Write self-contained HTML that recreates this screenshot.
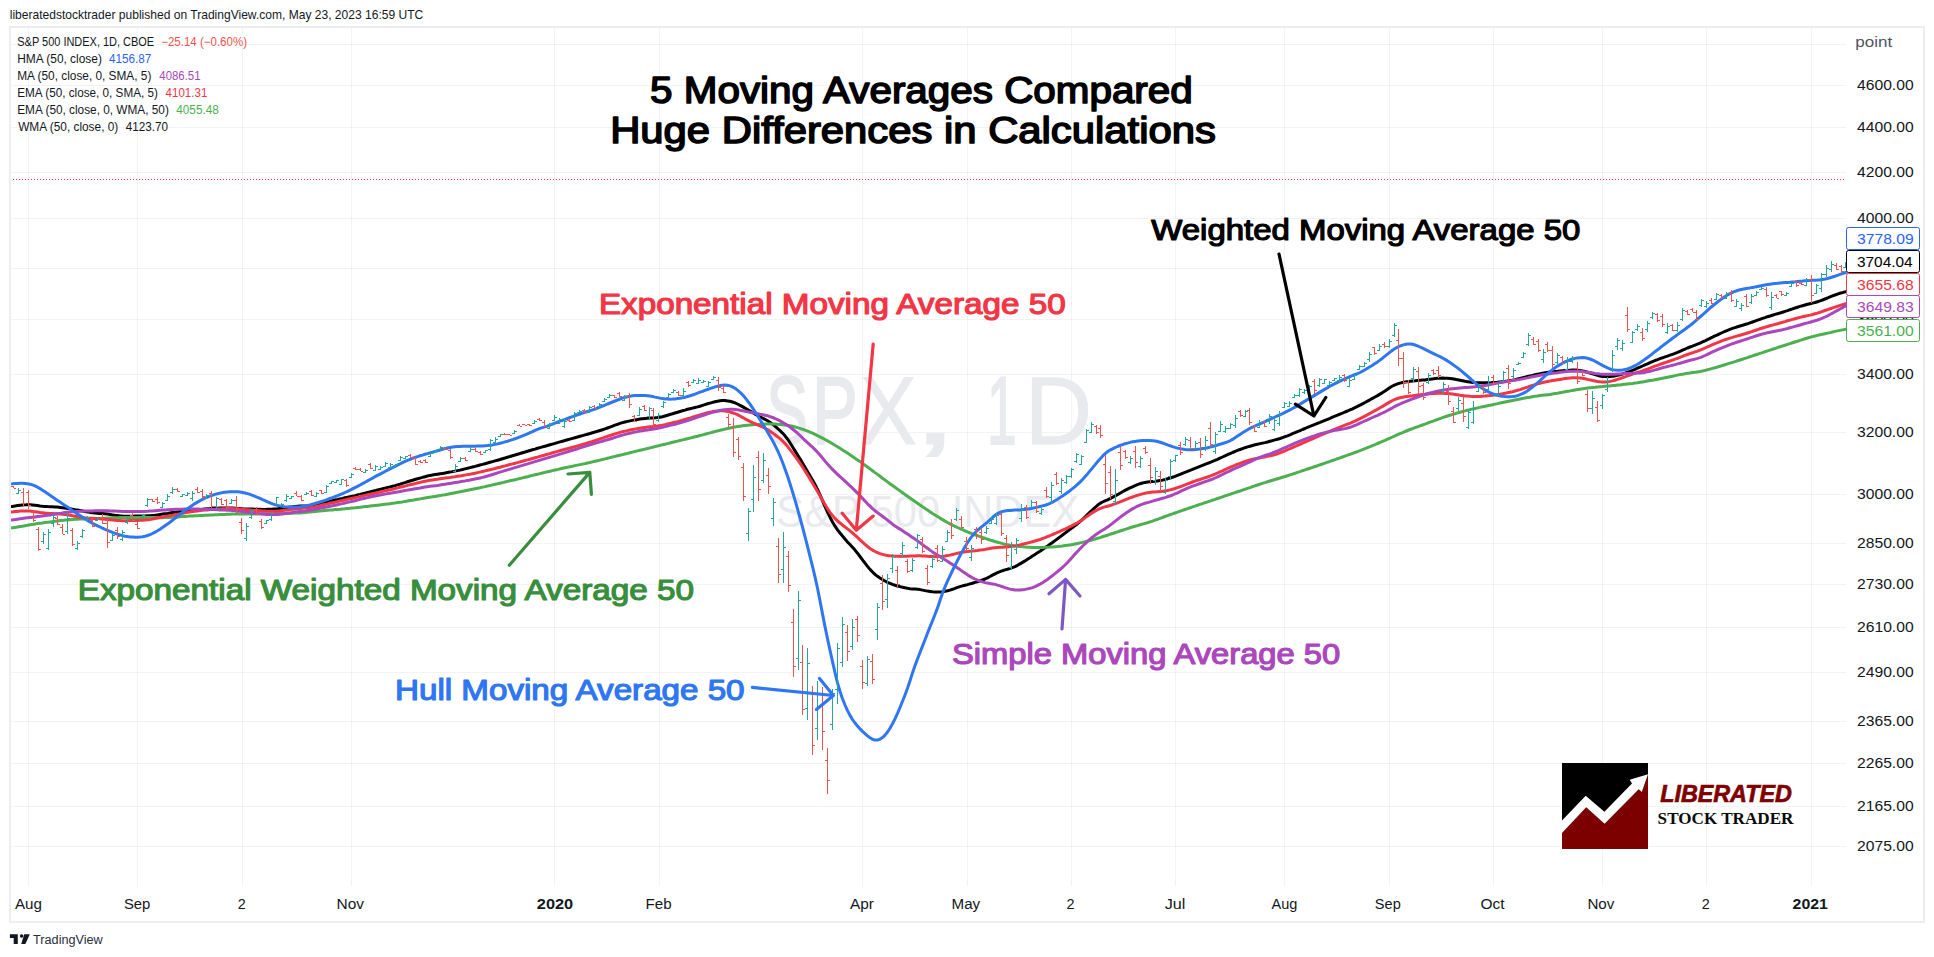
<!DOCTYPE html>
<html lang="en"><head><meta charset="utf-8"><title>5 Moving Averages Compared</title>
<style>html,body{margin:0;padding:0;background:#fff;}body{width:1934px;height:957px;overflow:hidden;}svg{display:block;}text{font-family:'Liberation Sans', sans-serif;}</style>
</head><body>
<svg width="1934" height="957" viewBox="0 0 1934 957">
<rect width="1934" height="957" fill="#fff"/>
<text x="9.71" y="18.8" font-size="12.2" fill="#131722" textLength="413.54" lengthAdjust="spacingAndGlyphs">liberatedstocktrader published on TradingView.com, May 23, 2023 16:59 UTC</text>
<g stroke="#2a2e39" stroke-opacity="0.06" stroke-width="1" shape-rendering="crispEdges">
<line x1="28.5" y1="28" x2="28.5" y2="886"/>
<line x1="137.5" y1="28" x2="137.5" y2="886"/>
<line x1="242.5" y1="28" x2="242.5" y2="886"/>
<line x1="351.5" y1="28" x2="351.5" y2="886"/>
<line x1="554.5" y1="28" x2="554.5" y2="886"/>
<line x1="659.5" y1="28" x2="659.5" y2="886"/>
<line x1="862.5" y1="28" x2="862.5" y2="886"/>
<line x1="967.5" y1="28" x2="967.5" y2="886"/>
<line x1="1071.5" y1="28" x2="1071.5" y2="886"/>
<line x1="1175.5" y1="28" x2="1175.5" y2="886"/>
<line x1="1284.5" y1="28" x2="1284.5" y2="886"/>
<line x1="1389.5" y1="28" x2="1389.5" y2="886"/>
<line x1="1493.5" y1="28" x2="1493.5" y2="886"/>
<line x1="1602.5" y1="28" x2="1602.5" y2="886"/>
<line x1="1706.5" y1="28" x2="1706.5" y2="886"/>
<line x1="1811.5" y1="28" x2="1811.5" y2="886"/>
<line x1="11" y1="44.5" x2="1846" y2="44.5"/>
<line x1="11" y1="85.5" x2="1846" y2="85.5"/>
<line x1="11" y1="127.5" x2="1846" y2="127.5"/>
<line x1="11" y1="172.5" x2="1846" y2="172.5"/>
<line x1="11" y1="218.5" x2="1846" y2="218.5"/>
<line x1="11" y1="268.5" x2="1846" y2="268.5"/>
<line x1="11" y1="319.5" x2="1846" y2="319.5"/>
<line x1="11" y1="374.5" x2="1846" y2="374.5"/>
<line x1="11" y1="432.5" x2="1846" y2="432.5"/>
<line x1="11" y1="494.5" x2="1846" y2="494.5"/>
<line x1="11" y1="543.5" x2="1846" y2="543.5"/>
<line x1="11" y1="584.5" x2="1846" y2="584.5"/>
<line x1="11" y1="627.5" x2="1846" y2="627.5"/>
<line x1="11" y1="672.5" x2="1846" y2="672.5"/>
<line x1="11" y1="721.5" x2="1846" y2="721.5"/>
<line x1="11" y1="763.5" x2="1846" y2="763.5"/>
<line x1="11" y1="806.5" x2="1846" y2="806.5"/>
<line x1="11" y1="846.5" x2="1846" y2="846.5"/>
</g>
<text y="443.7" font-size="96" fill="#e9eaee" xml:space="preserve"><tspan x="766.29" textLength="41.73" lengthAdjust="spacingAndGlyphs" stroke="#e9eaee" stroke-width="2.0">S</tspan><tspan x="812.07" textLength="45.83" lengthAdjust="spacingAndGlyphs" stroke="#e9eaee" stroke-width="2.0">P</tspan><tspan x="859.72" textLength="57.09" lengthAdjust="spacingAndGlyphs" stroke="#e9eaee" stroke-width="1.0">X</tspan><tspan x="911.4" textLength="47.12" lengthAdjust="spacingAndGlyphs" stroke="#e9eaee" stroke-width="1.0">,</tspan> <tspan x="986.9" textLength="29.75" lengthAdjust="spacingAndGlyphs" stroke="#e9eaee" stroke-width="2.0">1</tspan><tspan x="1024.82" textLength="67.38" lengthAdjust="spacingAndGlyphs" stroke="#e9eaee" stroke-width="1.0">D</tspan></text>
<text x="776.35" y="527.4" font-size="45" fill="#e9eaee" textLength="302.63" lengthAdjust="spacingAndGlyphs">S&amp;P 500 INDEX</text>
<line x1="13" y1="179.5" x2="1846" y2="179.5" stroke="#f23645" stroke-width="1" stroke-dasharray="1 2" shape-rendering="crispEdges"/>
<g fill="none" stroke-width="3" stroke-linecap="butt" stroke-linejoin="round">
<path d="M10.0 506.6L12.5 506.4L15.0 506.0L17.5 505.6L20.0 505.2L22.5 505.0L25.0 504.8L27.5 504.7L30.0 504.7L32.5 504.9L35.0 505.2L37.5 505.5L40.0 505.9L42.5 506.2L45.0 506.4L47.5 506.6L50.0 506.7L52.5 506.8L55.0 506.9L57.5 507.1L60.0 507.4L62.5 507.7L65.0 508.1L67.5 508.4L70.0 508.8L72.5 509.2L75.0 509.7L77.5 510.1L80.0 510.5L82.5 511.0L85.0 511.5L87.5 511.9L90.0 512.4L92.5 512.8L95.0 513.0L97.5 513.2L100.0 513.4L102.5 513.5L105.0 513.8L107.5 514.1L110.0 514.5L112.5 514.9L115.0 515.3L117.5 515.6L120.0 515.9L122.5 516.1L125.0 516.2L127.5 516.2L130.0 516.2L132.5 516.2L135.0 516.1L137.5 516.1L140.0 516.0L142.5 515.9L145.0 515.9L147.5 515.8L150.0 515.7L152.5 515.5L155.0 515.3L157.5 514.9L160.0 514.5L162.5 514.1L165.0 513.7L167.5 513.4L170.0 513.0L172.5 512.6L175.0 512.3L177.5 511.9L180.0 511.6L182.5 511.3L185.0 511.0L187.5 510.7L190.0 510.4L192.5 510.1L195.0 509.8L197.5 509.6L200.0 509.4L202.5 509.2L205.0 508.9L207.5 508.7L210.0 508.6L212.5 508.4L215.0 508.3L217.5 508.2L220.0 508.1L222.5 508.1L225.0 508.1L227.5 508.0L230.0 508.1L232.5 508.1L235.0 508.2L237.5 508.4L240.0 508.6L242.5 508.8L245.0 508.9L247.5 509.0L250.0 509.1L252.5 509.1L255.0 509.2L257.5 509.3L260.0 509.3L262.5 509.4L265.0 509.4L267.5 509.3L270.0 509.2L272.5 509.1L275.0 508.9L277.5 508.7L280.0 508.4L282.5 508.1L285.0 507.8L287.5 507.5L290.0 507.1L292.5 506.8L295.0 506.4L297.5 506.2L300.0 506.0L302.5 506.0L305.0 506.0L307.5 505.9L310.0 505.7L312.5 505.3L315.0 504.7L317.5 504.2L320.0 503.6L322.5 502.9L325.0 502.3L327.5 501.7L330.0 501.2L332.5 500.6L335.0 500.0L337.5 499.5L340.0 498.9L342.5 498.4L345.0 497.8L347.5 497.3L350.0 496.7L352.5 496.1L355.0 495.6L357.5 495.0L360.0 494.4L362.5 493.8L365.0 493.1L367.5 492.5L370.0 491.9L372.5 491.3L375.0 490.6L377.5 490.0L380.0 489.4L382.5 488.8L385.0 488.1L387.5 487.5L390.0 486.9L392.5 486.2L395.0 485.6L397.5 484.9L400.0 484.2L402.5 483.4L405.0 482.6L407.5 481.8L410.0 481.0L412.5 480.3L415.0 479.5L417.5 478.8L420.0 478.1L422.5 477.4L425.0 476.7L427.5 476.0L430.0 475.4L432.5 475.0L435.0 474.6L437.5 474.2L440.0 473.8L442.5 473.4L445.0 473.0L447.5 472.5L450.0 472.1L452.5 471.6L455.0 471.1L457.5 470.6L460.0 470.1L462.5 469.5L465.0 468.9L467.5 468.3L470.0 467.6L472.5 467.0L475.0 466.4L477.5 465.7L480.0 465.0L482.5 464.4L485.0 463.7L487.5 463.0L490.0 462.3L492.5 461.6L495.0 460.9L497.5 460.2L500.0 459.5L502.5 458.7L505.0 458.0L507.5 457.2L510.0 456.5L512.5 455.7L515.0 455.0L517.5 454.2L520.0 453.5L522.5 452.7L525.0 452.0L527.5 451.2L530.0 450.5L532.5 449.8L535.0 449.1L537.5 448.3L540.0 447.6L542.5 446.9L545.0 446.2L547.5 445.5L550.0 444.8L552.5 444.1L555.0 443.4L557.5 442.6L560.0 441.9L562.5 441.2L565.0 440.5L567.5 439.8L570.0 439.1L572.5 438.4L575.0 437.7L577.5 437.0L580.0 436.3L582.5 435.6L585.0 434.9L587.5 434.2L590.0 433.5L592.5 432.7L595.0 432.0L597.5 431.3L600.0 430.5L602.5 429.7L605.0 428.9L607.5 428.0L610.0 427.1L612.5 426.2L615.0 425.2L617.5 424.3L620.0 423.4L622.5 422.6L625.0 422.0L627.5 421.4L630.0 420.9L632.5 420.4L635.0 419.9L637.5 419.5L640.0 419.1L642.5 418.7L645.0 418.4L647.5 418.2L650.0 418.0L652.5 417.9L655.0 417.8L657.5 417.6L660.0 417.2L662.5 416.7L665.0 416.0L667.5 415.3L670.0 414.5L672.5 413.8L675.0 413.0L677.5 412.3L680.0 411.5L682.5 410.8L685.0 410.1L687.5 409.3L690.0 408.7L692.5 408.1L695.0 407.5L697.5 406.9L700.0 406.2L702.5 405.4L705.0 404.6L707.5 403.8L710.0 403.1L712.5 402.4L715.0 401.7L717.5 401.2L720.0 400.8L722.5 400.6L725.0 400.6L727.5 400.9L730.0 401.3L732.5 402.0L735.0 402.9L737.5 404.0L740.0 405.3L742.5 406.6L745.0 408.1L747.5 409.5L750.0 411.0L752.5 412.5L755.0 414.1L757.5 415.5L760.0 416.8L762.5 418.0L765.0 419.3L767.5 420.7L770.0 422.3L772.5 424.1L775.0 426.1L777.5 428.3L780.0 430.6L782.5 433.1L785.0 435.8L787.5 439.0L790.0 442.7L792.5 446.8L795.0 450.9L797.5 454.9L800.0 458.9L802.5 463.1L805.0 467.3L807.5 471.5L810.0 475.7L812.5 479.9L815.0 484.5L817.5 489.4L820.0 494.9L822.5 500.7L825.0 506.6L827.5 512.0L830.0 517.2L832.5 522.0L835.0 526.2L837.5 529.8L840.0 533.0L842.5 536.0L845.0 539.0L847.5 541.9L850.0 544.6L852.5 547.3L855.0 550.1L857.5 553.2L860.0 556.5L862.5 559.8L865.0 563.1L867.5 566.4L870.0 569.4L872.5 572.0L875.0 574.3L877.5 576.3L880.0 578.0L882.5 579.6L885.0 581.0L887.5 582.3L890.0 583.4L892.5 584.4L895.0 585.2L897.5 586.0L900.0 586.6L902.5 587.2L905.0 587.8L907.5 588.3L910.0 588.7L912.5 589.0L915.0 589.1L917.5 589.3L920.0 589.6L922.5 590.1L925.0 590.6L927.5 591.1L930.0 591.4L932.5 591.7L935.0 591.9L937.5 591.9L940.0 591.9L942.5 591.7L945.0 591.3L947.5 590.8L950.0 590.1L952.5 589.3L955.0 588.4L957.5 587.4L960.0 586.6L962.5 585.9L965.0 585.2L967.5 584.6L970.0 583.9L972.5 583.2L975.0 582.4L977.5 581.7L980.0 580.9L982.5 580.0L985.0 579.0L987.5 577.8L990.0 576.5L992.5 575.1L995.0 573.8L997.5 572.6L1000.0 571.6L1002.5 570.7L1005.0 569.9L1007.5 569.2L1010.0 568.4L1012.5 567.6L1015.0 566.6L1017.5 565.3L1020.0 563.9L1022.5 562.4L1025.0 560.9L1027.5 559.3L1030.0 557.7L1032.5 556.0L1035.0 554.4L1037.5 552.8L1040.0 551.2L1042.5 549.5L1045.0 547.8L1047.5 546.1L1050.0 544.3L1052.5 542.5L1055.0 540.6L1057.5 538.8L1060.0 536.9L1062.5 535.0L1065.0 533.1L1067.5 531.3L1070.0 529.4L1072.5 527.5L1075.0 525.6L1077.5 523.7L1080.0 521.6L1082.5 519.4L1085.0 517.0L1087.5 514.6L1090.0 512.2L1092.5 509.8L1095.0 507.5L1097.5 505.3L1100.0 503.4L1102.5 502.0L1105.0 500.9L1107.5 499.9L1110.0 498.7L1112.5 497.4L1115.0 496.0L1117.5 494.6L1120.0 493.2L1122.5 491.8L1125.0 490.4L1127.5 489.1L1130.0 487.9L1132.5 486.8L1135.0 485.7L1137.5 484.6L1140.0 483.7L1142.5 483.0L1145.0 482.4L1147.5 482.0L1150.0 481.7L1152.5 481.4L1155.0 481.2L1157.5 480.9L1160.0 480.6L1162.5 480.1L1165.0 479.5L1167.5 478.8L1170.0 478.0L1172.5 477.2L1175.0 476.4L1177.5 475.4L1180.0 474.4L1182.5 473.3L1185.0 472.3L1187.5 471.3L1190.0 470.4L1192.5 469.4L1195.0 468.4L1197.5 467.4L1200.0 466.4L1202.5 465.4L1205.0 464.4L1207.5 463.4L1210.0 462.5L1212.5 461.4L1215.0 460.4L1217.5 459.3L1220.0 458.1L1222.5 457.0L1225.0 455.9L1227.5 454.7L1230.0 453.6L1232.5 452.5L1235.0 451.5L1237.5 450.4L1240.0 449.5L1242.5 448.6L1245.0 447.7L1247.5 446.9L1250.0 446.2L1252.5 445.5L1255.0 444.8L1257.5 444.2L1260.0 443.6L1262.5 443.1L1265.0 442.6L1267.5 442.0L1270.0 441.3L1272.5 440.6L1275.0 439.9L1277.5 439.2L1280.0 438.5L1282.5 437.6L1285.0 436.7L1287.5 435.8L1290.0 434.8L1292.5 433.7L1295.0 432.7L1297.5 431.6L1300.0 430.6L1302.5 429.5L1305.0 428.5L1307.5 427.4L1310.0 426.4L1312.5 425.4L1315.0 424.4L1317.5 423.4L1320.0 422.4L1322.5 421.3L1325.0 420.3L1327.5 419.3L1330.0 418.3L1332.5 417.2L1335.0 416.2L1337.5 415.2L1340.0 414.1L1342.5 413.1L1345.0 412.0L1347.5 411.0L1350.0 409.9L1352.5 408.8L1355.0 407.6L1357.5 406.4L1360.0 405.1L1362.5 403.8L1365.0 402.5L1367.5 401.1L1370.0 399.8L1372.5 398.4L1375.0 397.0L1377.5 395.6L1380.0 394.1L1382.5 392.6L1385.0 391.0L1387.5 389.2L1390.0 387.5L1392.5 386.0L1395.0 384.8L1397.5 383.9L1400.0 383.1L1402.5 382.5L1405.0 382.1L1407.5 381.7L1410.0 381.3L1412.5 381.0L1415.0 380.8L1417.5 380.5L1420.0 380.3L1422.5 380.1L1425.0 379.9L1427.5 379.5L1430.0 379.2L1432.5 378.9L1435.0 378.6L1437.5 378.3L1440.0 378.2L1442.5 378.1L1445.0 378.2L1447.5 378.3L1450.0 378.5L1452.5 378.8L1455.0 379.2L1457.5 379.7L1460.0 380.2L1462.5 380.7L1465.0 381.3L1467.5 381.7L1470.0 382.1L1472.5 382.4L1475.0 382.6L1477.5 382.7L1480.0 382.8L1482.5 382.8L1485.0 382.8L1487.5 382.8L1490.0 382.7L1492.5 382.6L1495.0 382.5L1497.5 382.3L1500.0 382.0L1502.5 381.7L1505.0 381.4L1507.5 381.0L1510.0 380.6L1512.5 380.1L1515.0 379.6L1517.5 379.0L1520.0 378.4L1522.5 377.8L1525.0 377.1L1527.5 376.5L1530.0 375.9L1532.5 375.4L1535.0 374.8L1537.5 374.3L1540.0 373.8L1542.5 373.2L1545.0 372.8L1547.5 372.4L1550.0 372.1L1552.5 371.8L1555.0 371.5L1557.5 371.3L1560.0 371.0L1562.5 370.8L1565.0 370.6L1567.5 370.4L1570.0 370.2L1572.5 370.1L1575.0 370.1L1577.5 370.2L1580.0 370.5L1582.5 370.9L1585.0 371.5L1587.5 372.2L1590.0 373.0L1592.5 373.9L1595.0 374.6L1597.5 375.4L1600.0 376.0L1602.5 376.4L1605.0 376.6L1607.5 376.7L1610.0 376.6L1612.5 376.3L1615.0 375.9L1617.5 375.4L1620.0 374.7L1622.5 374.0L1625.0 373.1L1627.5 372.2L1630.0 371.3L1632.5 370.3L1635.0 369.3L1637.5 368.2L1640.0 367.1L1642.5 366.0L1645.0 364.9L1647.5 363.8L1650.0 362.7L1652.5 361.6L1655.0 360.5L1657.5 359.6L1660.0 358.6L1662.5 357.8L1665.0 356.9L1667.5 356.1L1670.0 355.2L1672.5 354.3L1675.0 353.4L1677.5 352.4L1680.0 351.3L1682.5 350.2L1685.0 349.1L1687.5 348.0L1690.0 347.0L1692.5 346.1L1695.0 345.1L1697.5 344.1L1700.0 343.1L1702.5 341.9L1705.0 340.8L1707.5 339.6L1710.0 338.4L1712.5 337.2L1715.0 335.9L1717.5 334.8L1720.0 333.6L1722.5 332.5L1725.0 331.4L1727.5 330.3L1730.0 329.3L1732.5 328.4L1735.0 327.6L1737.5 326.8L1740.0 326.0L1742.5 325.3L1745.0 324.5L1747.5 323.8L1750.0 322.9L1752.5 322.0L1755.0 321.1L1757.5 320.2L1760.0 319.3L1762.5 318.4L1765.0 317.6L1767.5 316.7L1770.0 316.0L1772.5 315.2L1775.0 314.4L1777.5 313.7L1780.0 313.0L1782.5 312.2L1785.0 311.4L1787.5 310.6L1790.0 309.7L1792.5 308.9L1795.0 308.0L1797.5 307.2L1800.0 306.4L1802.5 305.7L1805.0 305.0L1807.5 304.3L1810.0 303.7L1812.5 303.1L1815.0 302.5L1817.5 301.7L1820.0 300.9L1822.5 300.0L1825.0 299.0L1827.5 298.0L1830.0 296.9L1832.5 295.9L1835.0 295.0L1837.5 294.1L1840.0 293.3L1842.5 292.6L1845.0 291.9L1846.6 291.5" stroke="#000000"/>
<path d="M10.0 528.1L12.5 527.8L15.0 527.4L17.5 527.0L20.0 526.6L22.5 526.2L25.0 525.7L27.5 525.3L30.0 524.8L32.5 524.4L35.0 524.0L37.5 523.6L40.0 523.2L42.5 522.9L45.0 522.5L47.5 522.2L50.0 521.9L52.5 521.6L55.0 521.2L57.5 520.9L60.0 520.6L62.5 520.4L65.0 520.1L67.5 519.9L70.0 519.7L72.5 519.5L75.0 519.3L77.5 519.2L80.0 519.1L82.5 519.0L85.0 518.9L87.5 518.8L90.0 518.7L92.5 518.6L95.0 518.5L97.5 518.4L100.0 518.4L102.5 518.3L105.0 518.2L107.5 518.1L110.0 518.0L112.5 517.9L115.0 517.8L117.5 517.7L120.0 517.6L122.5 517.6L125.0 517.5L127.5 517.5L130.0 517.5L132.5 517.4L135.0 517.4L137.5 517.4L140.0 517.4L142.5 517.4L145.0 517.3L147.5 517.4L150.0 517.4L152.5 517.5L155.0 517.6L157.5 517.7L160.0 517.7L162.5 517.7L165.0 517.6L167.5 517.5L170.0 517.4L172.5 517.3L175.0 517.1L177.5 516.9L180.0 516.8L182.5 516.6L185.0 516.4L187.5 516.3L190.0 516.1L192.5 516.0L195.0 515.8L197.5 515.7L200.0 515.6L202.5 515.5L205.0 515.3L207.5 515.2L210.0 515.1L212.5 515.0L215.0 514.8L217.5 514.7L220.0 514.6L222.5 514.5L225.0 514.4L227.5 514.3L230.0 514.2L232.5 514.1L235.0 514.0L237.5 514.0L240.0 513.9L242.5 513.9L245.0 513.9L247.5 513.9L250.0 513.9L252.5 513.9L255.0 513.9L257.5 513.9L260.0 513.8L262.5 513.8L265.0 513.8L267.5 513.8L270.0 513.7L272.5 513.7L275.0 513.6L277.5 513.6L280.0 513.5L282.5 513.5L285.0 513.4L287.5 513.3L290.0 513.3L292.5 513.2L295.0 513.1L297.5 513.0L300.0 512.9L302.5 512.7L305.0 512.5L307.5 512.2L310.0 512.0L312.5 511.7L315.0 511.4L317.5 511.2L320.0 511.0L322.5 510.8L325.0 510.5L327.5 510.3L330.0 510.1L332.5 509.9L335.0 509.6L337.5 509.4L340.0 509.2L342.5 508.9L345.0 508.7L347.5 508.4L350.0 508.2L352.5 507.9L355.0 507.7L357.5 507.4L360.0 507.2L362.5 506.9L365.0 506.6L367.5 506.4L370.0 506.1L372.5 505.8L375.0 505.5L377.5 505.2L380.0 504.9L382.5 504.6L385.0 504.3L387.5 504.0L390.0 503.7L392.5 503.3L395.0 503.0L397.5 502.6L400.0 502.2L402.5 501.9L405.0 501.4L407.5 501.0L410.0 500.6L412.5 500.2L415.0 499.7L417.5 499.3L420.0 498.9L422.5 498.4L425.0 498.0L427.5 497.6L430.0 497.2L432.5 496.8L435.0 496.4L437.5 496.0L440.0 495.6L442.5 495.1L445.0 494.7L447.5 494.2L450.0 493.7L452.5 493.2L455.0 492.8L457.5 492.3L460.0 491.8L462.5 491.2L465.0 490.7L467.5 490.2L470.0 489.7L472.5 489.2L475.0 488.7L477.5 488.2L480.0 487.7L482.5 487.1L485.0 486.6L487.5 486.0L490.0 485.5L492.5 484.9L495.0 484.3L497.5 483.8L500.0 483.2L502.5 482.6L505.0 482.0L507.5 481.4L510.0 480.8L512.5 480.3L515.0 479.7L517.5 479.1L520.0 478.5L522.5 477.9L525.0 477.3L527.5 476.7L530.0 476.0L532.5 475.4L535.0 474.8L537.5 474.2L540.0 473.6L542.5 473.0L545.0 472.4L547.5 471.8L550.0 471.2L552.5 470.6L555.0 470.0L557.5 469.5L560.0 468.9L562.5 468.3L565.0 467.8L567.5 467.3L570.0 466.7L572.5 466.2L575.0 465.6L577.5 465.1L580.0 464.6L582.5 464.1L585.0 463.6L587.5 463.0L590.0 462.5L592.5 461.9L595.0 461.3L597.5 460.7L600.0 460.1L602.5 459.5L605.0 458.9L607.5 458.2L610.0 457.6L612.5 457.0L615.0 456.4L617.5 455.8L620.0 455.2L622.5 454.6L625.0 454.0L627.5 453.4L630.0 452.7L632.5 452.1L635.0 451.5L637.5 450.9L640.0 450.3L642.5 449.7L645.0 449.1L647.5 448.5L650.0 447.9L652.5 447.2L655.0 446.6L657.5 446.0L660.0 445.4L662.5 444.8L665.0 444.2L667.5 443.6L670.0 443.0L672.5 442.3L675.0 441.7L677.5 441.1L680.0 440.5L682.5 439.9L685.0 439.3L687.5 438.7L690.0 438.1L692.5 437.5L695.0 436.8L697.5 436.2L700.0 435.5L702.5 434.9L705.0 434.2L707.5 433.5L710.0 432.9L712.5 432.2L715.0 431.5L717.5 430.9L720.0 430.3L722.5 429.7L725.0 429.1L727.5 428.5L730.0 428.0L732.5 427.5L735.0 427.0L737.5 426.6L740.0 426.2L742.5 425.8L745.0 425.5L747.5 425.2L750.0 425.0L752.5 424.8L755.0 424.6L757.5 424.4L760.0 424.3L762.5 424.2L765.0 424.1L767.5 424.0L770.0 424.0L772.5 424.1L775.0 424.1L777.5 424.3L780.0 424.4L782.5 424.7L785.0 425.0L787.5 425.4L790.0 425.8L792.5 426.3L795.0 426.9L797.5 427.6L800.0 428.4L802.5 429.2L805.0 430.1L807.5 431.1L810.0 432.1L812.5 433.2L815.0 434.3L817.5 435.6L820.0 436.8L822.5 438.1L825.0 439.5L827.5 440.9L830.0 442.3L832.5 443.8L835.0 445.3L837.5 446.8L840.0 448.3L842.5 449.9L845.0 451.5L847.5 453.1L850.0 454.8L852.5 456.5L855.0 458.2L857.5 459.9L860.0 461.6L862.5 463.4L865.0 465.2L867.5 467.0L870.0 468.9L872.5 470.7L875.0 472.6L877.5 474.4L880.0 476.3L882.5 478.2L885.0 480.0L887.5 481.9L890.0 483.7L892.5 485.5L895.0 487.3L897.5 489.1L900.0 490.9L902.5 492.7L905.0 494.5L907.5 496.2L910.0 498.0L912.5 499.7L915.0 501.5L917.5 503.2L920.0 505.0L922.5 506.7L925.0 508.4L927.5 510.1L930.0 511.7L932.5 513.4L935.0 515.0L937.5 516.5L940.0 518.1L942.5 519.6L945.0 521.1L947.5 522.5L950.0 523.8L952.5 525.1L955.0 526.3L957.5 527.5L960.0 528.6L962.5 529.7L965.0 530.8L967.5 531.8L970.0 532.8L972.5 533.8L975.0 534.8L977.5 535.7L980.0 536.6L982.5 537.5L985.0 538.3L987.5 539.2L990.0 540.0L992.5 540.7L995.0 541.5L997.5 542.2L1000.0 542.9L1002.5 543.6L1005.0 544.2L1007.5 544.7L1010.0 545.2L1012.5 545.6L1015.0 546.0L1017.5 546.3L1020.0 546.6L1022.5 546.8L1025.0 547.0L1027.5 547.2L1030.0 547.3L1032.5 547.4L1035.0 547.5L1037.5 547.5L1040.0 547.5L1042.5 547.4L1045.0 547.3L1047.5 547.2L1050.0 547.1L1052.5 546.9L1055.0 546.7L1057.5 546.5L1060.0 546.2L1062.5 546.0L1065.0 545.6L1067.5 545.3L1070.0 544.9L1072.5 544.5L1075.0 544.0L1077.5 543.5L1080.0 542.9L1082.5 542.4L1085.0 541.8L1087.5 541.1L1090.0 540.5L1092.5 539.8L1095.0 539.1L1097.5 538.3L1100.0 537.6L1102.5 536.8L1105.0 536.0L1107.5 535.2L1110.0 534.3L1112.5 533.5L1115.0 532.7L1117.5 531.9L1120.0 531.0L1122.5 530.2L1125.0 529.4L1127.5 528.6L1130.0 527.8L1132.5 527.0L1135.0 526.3L1137.5 525.6L1140.0 524.8L1142.5 524.1L1145.0 523.4L1147.5 522.7L1150.0 521.9L1152.5 521.1L1155.0 520.2L1157.5 519.3L1160.0 518.4L1162.5 517.5L1165.0 516.5L1167.5 515.6L1170.0 514.7L1172.5 513.9L1175.0 513.0L1177.5 512.1L1180.0 511.2L1182.5 510.4L1185.0 509.5L1187.5 508.6L1190.0 507.8L1192.5 506.9L1195.0 506.1L1197.5 505.2L1200.0 504.4L1202.5 503.6L1205.0 502.7L1207.5 501.9L1210.0 501.1L1212.5 500.2L1215.0 499.4L1217.5 498.5L1220.0 497.7L1222.5 496.8L1225.0 495.9L1227.5 495.1L1230.0 494.3L1232.5 493.4L1235.0 492.6L1237.5 491.8L1240.0 491.0L1242.5 490.1L1245.0 489.3L1247.5 488.4L1250.0 487.6L1252.5 486.7L1255.0 485.8L1257.5 485.0L1260.0 484.2L1262.5 483.3L1265.0 482.6L1267.5 481.8L1270.0 481.0L1272.5 480.2L1275.0 479.5L1277.5 478.7L1280.0 478.0L1282.5 477.2L1285.0 476.5L1287.5 475.7L1290.0 474.9L1292.5 474.1L1295.0 473.3L1297.5 472.4L1300.0 471.6L1302.5 470.7L1305.0 469.9L1307.5 469.0L1310.0 468.2L1312.5 467.4L1315.0 466.5L1317.5 465.7L1320.0 464.8L1322.5 464.0L1325.0 463.1L1327.5 462.2L1330.0 461.4L1332.5 460.5L1335.0 459.6L1337.5 458.7L1340.0 457.9L1342.5 457.0L1345.0 456.1L1347.5 455.2L1350.0 454.3L1352.5 453.4L1355.0 452.5L1357.5 451.6L1360.0 450.7L1362.5 449.7L1365.0 448.7L1367.5 447.7L1370.0 446.7L1372.5 445.6L1375.0 444.6L1377.5 443.5L1380.0 442.5L1382.5 441.4L1385.0 440.3L1387.5 439.2L1390.0 438.1L1392.5 437.0L1395.0 435.9L1397.5 434.7L1400.0 433.6L1402.5 432.6L1405.0 431.5L1407.5 430.5L1410.0 429.5L1412.5 428.6L1415.0 427.7L1417.5 426.8L1420.0 425.9L1422.5 425.0L1425.0 424.1L1427.5 423.2L1430.0 422.2L1432.5 421.3L1435.0 420.4L1437.5 419.5L1440.0 418.6L1442.5 417.7L1445.0 416.8L1447.5 416.0L1450.0 415.2L1452.5 414.4L1455.0 413.7L1457.5 412.9L1460.0 412.2L1462.5 411.5L1465.0 410.9L1467.5 410.2L1470.0 409.6L1472.5 409.0L1475.0 408.5L1477.5 407.9L1480.0 407.4L1482.5 406.8L1485.0 406.3L1487.5 405.7L1490.0 405.2L1492.5 404.7L1495.0 404.1L1497.5 403.6L1500.0 403.0L1502.5 402.5L1505.0 402.0L1507.5 401.5L1510.0 401.0L1512.5 400.5L1515.0 400.0L1517.5 399.5L1520.0 399.0L1522.5 398.5L1525.0 398.0L1527.5 397.6L1530.0 397.2L1532.5 396.7L1535.0 396.3L1537.5 396.0L1540.0 395.6L1542.5 395.3L1545.0 395.0L1547.5 394.7L1550.0 394.4L1552.5 394.0L1555.0 393.6L1557.5 393.2L1560.0 392.7L1562.5 392.3L1565.0 391.8L1567.5 391.3L1570.0 390.9L1572.5 390.4L1575.0 390.0L1577.5 389.6L1580.0 389.2L1582.5 388.8L1585.0 388.4L1587.5 388.1L1590.0 387.8L1592.5 387.5L1595.0 387.3L1597.5 387.0L1600.0 386.8L1602.5 386.6L1605.0 386.3L1607.5 386.1L1610.0 385.9L1612.5 385.6L1615.0 385.4L1617.5 385.1L1620.0 384.9L1622.5 384.6L1625.0 384.3L1627.5 384.0L1630.0 383.7L1632.5 383.4L1635.0 383.0L1637.5 382.7L1640.0 382.3L1642.5 381.9L1645.0 381.5L1647.5 381.0L1650.0 380.6L1652.5 380.2L1655.0 379.7L1657.5 379.2L1660.0 378.7L1662.5 378.2L1665.0 377.7L1667.5 377.2L1670.0 376.7L1672.5 376.2L1675.0 375.6L1677.5 375.1L1680.0 374.6L1682.5 374.2L1685.0 373.7L1687.5 373.3L1690.0 373.0L1692.5 372.6L1695.0 372.3L1697.5 371.9L1700.0 371.5L1702.5 371.0L1705.0 370.4L1707.5 369.8L1710.0 369.1L1712.5 368.4L1715.0 367.7L1717.5 367.0L1720.0 366.2L1722.5 365.5L1725.0 364.7L1727.5 363.9L1730.0 363.1L1732.5 362.4L1735.0 361.6L1737.5 360.8L1740.0 360.0L1742.5 359.2L1745.0 358.4L1747.5 357.6L1750.0 356.7L1752.5 355.9L1755.0 355.0L1757.5 354.2L1760.0 353.4L1762.5 352.6L1765.0 351.7L1767.5 350.9L1770.0 350.1L1772.5 349.3L1775.0 348.5L1777.5 347.6L1780.0 346.8L1782.5 346.0L1785.0 345.2L1787.5 344.4L1790.0 343.6L1792.5 342.8L1795.0 342.0L1797.5 341.2L1800.0 340.4L1802.5 339.6L1805.0 338.8L1807.5 338.0L1810.0 337.3L1812.5 336.6L1815.0 336.0L1817.5 335.4L1820.0 334.8L1822.5 334.3L1825.0 333.7L1827.5 333.1L1830.0 332.6L1832.5 332.0L1835.0 331.4L1837.5 330.9L1840.0 330.4L1842.5 329.9L1845.0 329.4L1846.6 329.1" stroke="#4caf50"/>
<path d="M10.0 512.1L12.5 511.9L15.0 511.6L17.5 511.4L20.0 511.1L22.5 511.0L25.0 510.9L27.5 511.0L30.0 511.1L32.5 511.4L35.0 511.7L37.5 512.0L40.0 512.4L42.5 512.7L45.0 513.0L47.5 513.2L50.0 513.4L52.5 513.5L55.0 513.7L57.5 513.8L60.0 514.0L62.5 514.2L65.0 514.5L67.5 514.8L70.0 515.3L72.5 515.8L75.0 516.3L77.5 516.8L80.0 517.2L82.5 517.6L85.0 517.9L87.5 518.1L90.0 518.2L92.5 518.3L95.0 518.4L97.5 518.5L100.0 518.7L102.5 518.9L105.0 519.2L107.5 519.5L110.0 519.8L112.5 520.1L115.0 520.3L117.5 520.5L120.0 520.6L122.5 520.7L125.0 520.7L127.5 520.7L130.0 520.6L132.5 520.6L135.0 520.5L137.5 520.5L140.0 520.3L142.5 520.2L145.0 520.0L147.5 519.7L150.0 519.4L152.5 519.0L155.0 518.5L157.5 518.0L160.0 517.5L162.5 517.0L165.0 516.5L167.5 516.1L170.0 515.6L172.5 515.2L175.0 514.7L177.5 514.2L180.0 513.8L182.5 513.3L185.0 512.8L187.5 512.4L190.0 511.9L192.5 511.6L195.0 511.2L197.5 510.9L200.0 510.6L202.5 510.3L205.0 510.1L207.5 509.9L210.0 509.6L212.5 509.5L215.0 509.3L217.5 509.1L220.0 509.0L222.5 508.8L225.0 508.7L227.5 508.6L230.0 508.6L232.5 508.6L235.0 508.7L237.5 508.8L240.0 509.0L242.5 509.3L245.0 509.6L247.5 509.8L250.0 510.0L252.5 510.2L255.0 510.4L257.5 510.5L260.0 510.7L262.5 510.9L265.0 511.1L267.5 511.2L270.0 511.3L272.5 511.3L275.0 511.2L277.5 511.1L280.0 510.9L282.5 510.6L285.0 510.3L287.5 510.0L290.0 509.6L292.5 509.3L295.0 509.0L297.5 508.7L300.0 508.5L302.5 508.3L305.0 508.1L307.5 507.8L310.0 507.5L312.5 507.1L315.0 506.7L317.5 506.2L320.0 505.6L322.5 505.0L325.0 504.4L327.5 503.9L330.0 503.3L332.5 502.7L335.0 502.2L337.5 501.6L340.0 501.0L342.5 500.5L345.0 499.9L347.5 499.3L350.0 498.8L352.5 498.2L355.0 497.6L357.5 497.1L360.0 496.5L362.5 495.9L365.0 495.4L367.5 494.8L370.0 494.3L372.5 493.7L375.0 493.1L377.5 492.6L380.0 492.0L382.5 491.4L385.0 490.9L387.5 490.3L390.0 489.7L392.5 489.2L395.0 488.6L397.5 487.9L400.0 487.3L402.5 486.7L405.0 486.1L407.5 485.4L410.0 484.8L412.5 484.2L415.0 483.6L417.5 483.0L420.0 482.4L422.5 481.8L425.0 481.3L427.5 480.8L430.0 480.3L432.5 479.9L435.0 479.5L437.5 479.2L440.0 478.8L442.5 478.4L445.0 478.1L447.5 477.7L450.0 477.4L452.5 477.0L455.0 476.7L457.5 476.3L460.0 475.9L462.5 475.5L465.0 475.1L467.5 474.6L470.0 474.2L472.5 473.7L475.0 473.2L477.5 472.6L480.0 472.1L482.5 471.5L485.0 470.9L487.5 470.3L490.0 469.7L492.5 469.1L495.0 468.5L497.5 467.8L500.0 467.2L502.5 466.5L505.0 465.9L507.5 465.2L510.0 464.5L512.5 463.9L515.0 463.2L517.5 462.6L520.0 461.9L522.5 461.2L525.0 460.5L527.5 459.9L530.0 459.2L532.5 458.5L535.0 457.8L537.5 457.1L540.0 456.4L542.5 455.7L545.0 455.0L547.5 454.3L550.0 453.6L552.5 452.8L555.0 452.1L557.5 451.4L560.0 450.7L562.5 450.0L565.0 449.3L567.5 448.6L570.0 448.0L572.5 447.3L575.0 446.6L577.5 445.9L580.0 445.2L582.5 444.5L585.0 443.8L587.5 443.0L590.0 442.3L592.5 441.5L595.0 440.6L597.5 439.8L600.0 438.9L602.5 438.1L605.0 437.2L607.5 436.3L610.0 435.5L612.5 434.7L615.0 433.9L617.5 433.1L620.0 432.4L622.5 431.7L625.0 431.1L627.5 430.6L630.0 430.0L632.5 429.5L635.0 429.1L637.5 428.6L640.0 428.2L642.5 427.8L645.0 427.4L647.5 427.1L650.0 426.8L652.5 426.6L655.0 426.3L657.5 426.0L660.0 425.6L662.5 425.1L665.0 424.6L667.5 424.0L670.0 423.4L672.5 422.8L675.0 422.2L677.5 421.6L680.0 420.9L682.5 420.2L685.0 419.5L687.5 418.8L690.0 418.1L692.5 417.3L695.0 416.5L697.5 415.7L700.0 415.0L702.5 414.2L705.0 413.5L707.5 412.8L710.0 412.2L712.5 411.6L715.0 411.2L717.5 410.9L720.0 410.7L722.5 410.8L725.0 411.0L727.5 411.4L730.0 412.0L732.5 412.7L735.0 413.6L737.5 414.7L740.0 416.0L742.5 417.4L745.0 418.8L747.5 420.1L750.0 421.4L752.5 422.6L755.0 423.7L757.5 424.8L760.0 425.8L762.5 427.0L765.0 428.2L767.5 429.6L770.0 431.2L772.5 432.9L775.0 434.8L777.5 436.7L780.0 438.7L782.5 440.9L785.0 443.5L787.5 446.4L790.0 449.6L792.5 452.9L795.0 456.2L797.5 459.6L800.0 463.2L802.5 467.0L805.0 470.9L807.5 474.9L810.0 478.9L812.5 483.0L815.0 487.2L817.5 491.4L820.0 495.8L822.5 500.3L825.0 504.6L827.5 508.7L830.0 512.3L832.5 515.6L835.0 518.4L837.5 520.8L840.0 523.0L842.5 525.0L845.0 527.0L847.5 528.9L850.0 530.9L852.5 533.0L855.0 535.1L857.5 537.4L860.0 539.8L862.5 542.1L865.0 544.4L867.5 546.5L870.0 548.5L872.5 550.1L875.0 551.5L877.5 552.7L880.0 553.6L882.5 554.4L885.0 555.0L887.5 555.5L890.0 555.8L892.5 556.0L895.0 556.2L897.5 556.3L900.0 556.3L902.5 556.3L905.0 556.3L907.5 556.3L910.0 556.1L912.5 556.0L915.0 555.9L917.5 555.8L920.0 555.8L922.5 555.9L925.0 556.0L927.5 556.3L930.0 556.5L932.5 556.6L935.0 556.7L937.5 556.6L940.0 556.5L942.5 556.3L945.0 556.0L947.5 555.6L950.0 555.1L952.5 554.5L955.0 553.9L957.5 553.3L960.0 552.7L962.5 552.2L965.0 551.8L967.5 551.5L970.0 551.2L972.5 551.0L975.0 550.7L977.5 550.5L980.0 550.1L982.5 549.8L985.0 549.4L987.5 548.9L990.0 548.5L992.5 548.1L995.0 547.8L997.5 547.5L1000.0 547.3L1002.5 547.2L1005.0 547.0L1007.5 546.9L1010.0 546.6L1012.5 546.3L1015.0 545.9L1017.5 545.4L1020.0 544.9L1022.5 544.3L1025.0 543.6L1027.5 543.0L1030.0 542.4L1032.5 541.7L1035.0 541.0L1037.5 540.3L1040.0 539.5L1042.5 538.6L1045.0 537.7L1047.5 536.6L1050.0 535.6L1052.5 534.5L1055.0 533.5L1057.5 532.4L1060.0 531.3L1062.5 530.2L1065.0 529.1L1067.5 527.9L1070.0 526.6L1072.5 525.4L1075.0 524.1L1077.5 522.8L1080.0 521.3L1082.5 519.6L1085.0 517.9L1087.5 516.1L1090.0 514.3L1092.5 512.6L1095.0 511.1L1097.5 509.7L1100.0 508.6L1102.5 507.6L1105.0 506.9L1107.5 506.2L1110.0 505.5L1112.5 504.7L1115.0 503.8L1117.5 502.9L1120.0 501.9L1122.5 500.9L1125.0 499.9L1127.5 498.9L1130.0 497.9L1132.5 497.0L1135.0 496.1L1137.5 495.3L1140.0 494.6L1142.5 493.9L1145.0 493.3L1147.5 492.8L1150.0 492.4L1152.5 492.1L1155.0 491.9L1157.5 491.7L1160.0 491.5L1162.5 491.3L1165.0 490.9L1167.5 490.5L1170.0 489.9L1172.5 489.2L1175.0 488.5L1177.5 487.6L1180.0 486.8L1182.5 485.8L1185.0 484.9L1187.5 483.9L1190.0 483.0L1192.5 482.0L1195.0 481.1L1197.5 480.3L1200.0 479.5L1202.5 478.6L1205.0 477.8L1207.5 477.0L1210.0 476.1L1212.5 475.1L1215.0 474.1L1217.5 473.0L1220.0 471.9L1222.5 470.8L1225.0 469.6L1227.5 468.5L1230.0 467.4L1232.5 466.3L1235.0 465.3L1237.5 464.2L1240.0 463.3L1242.5 462.3L1245.0 461.4L1247.5 460.6L1250.0 459.9L1252.5 459.3L1255.0 458.8L1257.5 458.3L1260.0 457.8L1262.5 457.3L1265.0 456.9L1267.5 456.4L1270.0 455.9L1272.5 455.3L1275.0 454.5L1277.5 453.7L1280.0 452.8L1282.5 451.8L1285.0 450.8L1287.5 449.7L1290.0 448.7L1292.5 447.6L1295.0 446.5L1297.5 445.4L1300.0 444.3L1302.5 443.2L1305.0 442.1L1307.5 441.0L1310.0 439.9L1312.5 438.8L1315.0 437.7L1317.5 436.6L1320.0 435.5L1322.5 434.4L1325.0 433.4L1327.5 432.3L1330.0 431.3L1332.5 430.2L1335.0 429.2L1337.5 428.1L1340.0 427.1L1342.5 426.2L1345.0 425.2L1347.5 424.2L1350.0 423.3L1352.5 422.2L1355.0 421.1L1357.5 419.9L1360.0 418.7L1362.5 417.4L1365.0 416.1L1367.5 414.7L1370.0 413.4L1372.5 412.0L1375.0 410.6L1377.5 409.2L1380.0 407.8L1382.5 406.4L1385.0 404.9L1387.5 403.4L1390.0 401.9L1392.5 400.5L1395.0 399.4L1397.5 398.5L1400.0 397.8L1402.5 397.3L1405.0 396.8L1407.5 396.4L1410.0 396.1L1412.5 395.8L1415.0 395.4L1417.5 395.1L1420.0 394.8L1422.5 394.5L1425.0 394.3L1427.5 394.0L1430.0 393.8L1432.5 393.6L1435.0 393.4L1437.5 393.3L1440.0 393.3L1442.5 393.3L1445.0 393.4L1447.5 393.6L1450.0 393.8L1452.5 394.1L1455.0 394.4L1457.5 394.8L1460.0 395.2L1462.5 395.5L1465.0 395.9L1467.5 396.1L1470.0 396.3L1472.5 396.4L1475.0 396.5L1477.5 396.5L1480.0 396.4L1482.5 396.2L1485.0 396.1L1487.5 395.8L1490.0 395.6L1492.5 395.3L1495.0 395.0L1497.5 394.6L1500.0 394.2L1502.5 393.8L1505.0 393.3L1507.5 392.8L1510.0 392.3L1512.5 391.7L1515.0 391.0L1517.5 390.3L1520.0 389.6L1522.5 388.8L1525.0 387.9L1527.5 387.1L1530.0 386.2L1532.5 385.4L1535.0 384.6L1537.5 383.8L1540.0 383.2L1542.5 382.5L1545.0 382.0L1547.5 381.5L1550.0 381.0L1552.5 380.6L1555.0 380.2L1557.5 379.8L1560.0 379.4L1562.5 379.0L1565.0 378.6L1567.5 378.3L1570.0 378.0L1572.5 377.8L1575.0 377.7L1577.5 377.8L1580.0 378.0L1582.5 378.3L1585.0 378.8L1587.5 379.4L1590.0 379.9L1592.5 380.5L1595.0 381.0L1597.5 381.4L1600.0 381.7L1602.5 381.9L1605.0 381.9L1607.5 381.8L1610.0 381.4L1612.5 380.9L1615.0 380.2L1617.5 379.4L1620.0 378.6L1622.5 377.7L1625.0 376.8L1627.5 375.9L1630.0 375.0L1632.5 374.1L1635.0 373.3L1637.5 372.5L1640.0 371.7L1642.5 370.9L1645.0 370.0L1647.5 369.1L1650.0 368.2L1652.5 367.2L1655.0 366.2L1657.5 365.3L1660.0 364.4L1662.5 363.5L1665.0 362.7L1667.5 361.8L1670.0 361.0L1672.5 360.1L1675.0 359.2L1677.5 358.3L1680.0 357.3L1682.5 356.4L1685.0 355.4L1687.5 354.5L1690.0 353.6L1692.5 352.8L1695.0 351.9L1697.5 351.1L1700.0 350.1L1702.5 349.1L1705.0 348.0L1707.5 346.9L1710.0 345.8L1712.5 344.7L1715.0 343.6L1717.5 342.6L1720.0 341.6L1722.5 340.6L1725.0 339.7L1727.5 338.9L1730.0 338.1L1732.5 337.4L1735.0 336.6L1737.5 335.9L1740.0 335.2L1742.5 334.5L1745.0 333.8L1747.5 333.0L1750.0 332.2L1752.5 331.3L1755.0 330.5L1757.5 329.6L1760.0 328.8L1762.5 328.0L1765.0 327.2L1767.5 326.5L1770.0 325.8L1772.5 325.1L1775.0 324.4L1777.5 323.7L1780.0 323.0L1782.5 322.3L1785.0 321.6L1787.5 320.8L1790.0 320.1L1792.5 319.4L1795.0 318.7L1797.5 318.0L1800.0 317.4L1802.5 316.8L1805.0 316.2L1807.5 315.6L1810.0 315.1L1812.5 314.5L1815.0 313.8L1817.5 313.1L1820.0 312.3L1822.5 311.4L1825.0 310.5L1827.5 309.6L1830.0 308.8L1832.5 307.9L1835.0 307.1L1837.5 306.3L1840.0 305.4L1842.5 304.7L1845.0 303.9L1846.6 303.4" stroke="#f23645"/>
<path d="M10.0 520.1L12.5 519.9L15.0 519.6L17.5 519.2L20.0 518.8L22.5 518.4L25.0 518.1L27.5 517.8L30.0 517.5L32.5 517.2L35.0 516.9L37.5 516.6L40.0 516.3L42.5 515.9L45.0 515.6L47.5 515.3L50.0 515.0L52.5 514.6L55.0 514.2L57.5 513.8L60.0 513.4L62.5 513.0L65.0 512.6L67.5 512.3L70.0 512.0L72.5 511.7L75.0 511.5L77.5 511.4L80.0 511.3L82.5 511.2L85.0 511.1L87.5 511.0L90.0 511.0L92.5 510.9L95.0 510.8L97.5 510.7L100.0 510.7L102.5 510.7L105.0 510.7L107.5 510.8L110.0 510.9L112.5 511.0L115.0 511.1L117.5 511.2L120.0 511.3L122.5 511.4L125.0 511.5L127.5 511.5L130.0 511.6L132.5 511.6L135.0 511.6L137.5 511.6L140.0 511.6L142.5 511.5L145.0 511.4L147.5 511.3L150.0 511.1L152.5 510.9L155.0 510.7L157.5 510.5L160.0 510.3L162.5 510.1L165.0 509.9L167.5 509.7L170.0 509.6L172.5 509.4L175.0 509.3L177.5 509.3L180.0 509.2L182.5 509.2L185.0 509.1L187.5 509.1L190.0 509.1L192.5 509.1L195.0 509.1L197.5 509.1L200.0 509.2L202.5 509.2L205.0 509.2L207.5 509.3L210.0 509.4L212.5 509.5L215.0 509.6L217.5 509.7L220.0 509.9L222.5 510.0L225.0 510.1L227.5 510.2L230.0 510.3L232.5 510.4L235.0 510.6L237.5 510.9L240.0 511.2L242.5 511.6L245.0 511.9L247.5 512.3L250.0 512.6L252.5 512.9L255.0 513.2L257.5 513.5L260.0 513.8L262.5 514.0L265.0 514.2L267.5 514.4L270.0 514.5L272.5 514.6L275.0 514.6L277.5 514.4L280.0 514.2L282.5 514.0L285.0 513.6L287.5 513.3L290.0 512.9L292.5 512.5L295.0 512.1L297.5 511.8L300.0 511.5L302.5 511.2L305.0 510.9L307.5 510.5L310.0 510.1L312.5 509.7L315.0 509.3L317.5 508.8L320.0 508.3L322.5 507.8L325.0 507.3L327.5 506.8L330.0 506.3L332.5 505.8L335.0 505.3L337.5 504.7L340.0 504.1L342.5 503.6L345.0 503.0L347.5 502.4L350.0 501.9L352.5 501.3L355.0 500.7L357.5 500.0L360.0 499.4L362.5 498.8L365.0 498.2L367.5 497.6L370.0 497.0L372.5 496.5L375.0 496.0L377.5 495.5L380.0 495.0L382.5 494.5L385.0 494.1L387.5 493.6L390.0 493.2L392.5 492.8L395.0 492.3L397.5 491.9L400.0 491.5L402.5 491.0L405.0 490.6L407.5 490.1L410.0 489.7L412.5 489.3L415.0 488.8L417.5 488.4L420.0 488.0L422.5 487.5L425.0 487.1L427.5 486.7L430.0 486.3L432.5 486.0L435.0 485.7L437.5 485.4L440.0 485.0L442.5 484.6L445.0 484.2L447.5 483.8L450.0 483.4L452.5 483.0L455.0 482.6L457.5 482.2L460.0 481.8L462.5 481.3L465.0 480.9L467.5 480.4L470.0 480.0L472.5 479.5L475.0 479.0L477.5 478.5L480.0 478.0L482.5 477.4L485.0 476.7L487.5 476.0L490.0 475.3L492.5 474.5L495.0 473.7L497.5 472.9L500.0 472.1L502.5 471.4L505.0 470.6L507.5 469.9L510.0 469.1L512.5 468.4L515.0 467.6L517.5 466.9L520.0 466.1L522.5 465.4L525.0 464.6L527.5 463.9L530.0 463.1L532.5 462.4L535.0 461.6L537.5 460.9L540.0 460.1L542.5 459.4L545.0 458.6L547.5 457.9L550.0 457.1L552.5 456.4L555.0 455.6L557.5 454.9L560.0 454.1L562.5 453.4L565.0 452.6L567.5 451.8L570.0 451.0L572.5 450.2L575.0 449.5L577.5 448.7L580.0 447.9L582.5 447.1L585.0 446.3L587.5 445.5L590.0 444.7L592.5 444.0L595.0 443.3L597.5 442.6L600.0 441.9L602.5 441.2L605.0 440.4L607.5 439.7L610.0 439.0L612.5 438.2L615.0 437.4L617.5 436.6L620.0 435.8L622.5 435.1L625.0 434.4L627.5 433.7L630.0 433.2L632.5 432.6L635.0 432.1L637.5 431.6L640.0 431.1L642.5 430.7L645.0 430.3L647.5 429.9L650.0 429.5L652.5 429.2L655.0 428.8L657.5 428.4L660.0 427.8L662.5 427.3L665.0 426.6L667.5 426.0L670.0 425.4L672.5 424.8L675.0 424.2L677.5 423.5L680.0 422.9L682.5 422.1L685.0 421.4L687.5 420.6L690.0 419.8L692.5 418.9L695.0 418.1L697.5 417.2L700.0 416.3L702.5 415.5L705.0 414.7L707.5 413.9L710.0 413.1L712.5 412.4L715.0 411.7L717.5 411.1L720.0 410.5L722.5 410.0L725.0 409.7L727.5 409.4L730.0 409.3L732.5 409.3L735.0 409.5L737.5 409.8L740.0 410.2L742.5 410.7L745.0 411.2L747.5 411.8L750.0 412.3L752.5 412.8L755.0 413.3L757.5 413.7L760.0 414.2L762.5 414.6L765.0 415.2L767.5 415.8L770.0 416.6L772.5 417.5L775.0 418.5L777.5 419.7L780.0 420.9L782.5 422.3L785.0 423.7L787.5 425.3L790.0 427.1L792.5 429.0L795.0 431.0L797.5 433.2L800.0 435.5L802.5 438.0L805.0 440.4L807.5 442.7L810.0 444.9L812.5 447.2L815.0 449.6L817.5 452.2L820.0 455.0L822.5 458.0L825.0 461.1L827.5 464.1L830.0 466.8L832.5 469.4L835.0 471.9L837.5 474.3L840.0 476.6L842.5 478.9L845.0 481.2L847.5 483.5L850.0 485.8L852.5 488.1L855.0 490.6L857.5 493.1L860.0 495.8L862.5 498.4L865.0 501.1L867.5 503.8L870.0 506.2L872.5 508.6L875.0 510.7L877.5 512.6L880.0 514.5L882.5 516.3L885.0 518.2L887.5 520.2L890.0 522.2L892.5 524.2L895.0 525.9L897.5 527.6L900.0 529.1L902.5 530.7L905.0 532.4L907.5 534.0L910.0 535.7L912.5 537.4L915.0 539.1L917.5 540.9L920.0 542.7L922.5 544.6L925.0 546.5L927.5 548.3L930.0 550.1L932.5 551.9L935.0 553.5L937.5 555.1L940.0 556.7L942.5 558.2L945.0 559.8L947.5 561.3L950.0 562.9L952.5 564.5L955.0 566.2L957.5 567.9L960.0 569.6L962.5 571.4L965.0 573.1L967.5 574.8L970.0 576.4L972.5 577.8L975.0 579.0L977.5 580.1L980.0 581.1L982.5 581.9L985.0 582.6L987.5 583.1L990.0 583.5L992.5 583.9L995.0 584.4L997.5 585.1L1000.0 585.9L1002.5 586.7L1005.0 587.6L1007.5 588.4L1010.0 589.1L1012.5 589.6L1015.0 590.0L1017.5 590.1L1020.0 590.0L1022.5 589.7L1025.0 589.4L1027.5 588.9L1030.0 588.3L1032.5 587.6L1035.0 586.6L1037.5 585.4L1040.0 584.1L1042.5 582.7L1045.0 581.1L1047.5 579.4L1050.0 577.5L1052.5 575.6L1055.0 573.6L1057.5 571.6L1060.0 569.5L1062.5 567.3L1065.0 565.0L1067.5 562.5L1070.0 559.8L1072.5 556.9L1075.0 554.1L1077.5 551.4L1080.0 548.8L1082.5 546.3L1085.0 543.8L1087.5 541.5L1090.0 539.2L1092.5 537.1L1095.0 535.2L1097.5 533.4L1100.0 531.7L1102.5 530.2L1105.0 528.7L1107.5 527.1L1110.0 525.3L1112.5 523.4L1115.0 521.4L1117.5 519.4L1120.0 517.4L1122.5 515.5L1125.0 513.7L1127.5 512.0L1130.0 510.4L1132.5 508.9L1135.0 507.5L1137.5 506.2L1140.0 505.1L1142.5 504.1L1145.0 503.3L1147.5 502.6L1150.0 501.9L1152.5 501.1L1155.0 500.4L1157.5 499.7L1160.0 499.0L1162.5 498.3L1165.0 497.6L1167.5 496.8L1170.0 496.0L1172.5 495.0L1175.0 493.9L1177.5 492.8L1180.0 491.6L1182.5 490.4L1185.0 489.3L1187.5 488.2L1190.0 487.2L1192.5 486.2L1195.0 485.3L1197.5 484.4L1200.0 483.5L1202.5 482.6L1205.0 481.7L1207.5 480.9L1210.0 480.0L1212.5 479.1L1215.0 478.0L1217.5 476.9L1220.0 475.7L1222.5 474.5L1225.0 473.2L1227.5 472.0L1230.0 470.8L1232.5 469.6L1235.0 468.5L1237.5 467.4L1240.0 466.3L1242.5 465.2L1245.0 464.1L1247.5 463.0L1250.0 461.8L1252.5 460.6L1255.0 459.4L1257.5 458.4L1260.0 457.4L1262.5 456.4L1265.0 455.5L1267.5 454.7L1270.0 453.9L1272.5 453.0L1275.0 452.0L1277.5 451.0L1280.0 449.8L1282.5 448.7L1285.0 447.6L1287.5 446.5L1290.0 445.4L1292.5 444.3L1295.0 443.2L1297.5 442.2L1300.0 441.1L1302.5 440.1L1305.0 439.1L1307.5 438.2L1310.0 437.3L1312.5 436.4L1315.0 435.6L1317.5 434.8L1320.0 434.0L1322.5 433.3L1325.0 432.6L1327.5 431.9L1330.0 431.4L1332.5 430.8L1335.0 430.3L1337.5 429.9L1340.0 429.5L1342.5 429.1L1345.0 428.6L1347.5 428.0L1350.0 427.3L1352.5 426.4L1355.0 425.3L1357.5 424.3L1360.0 423.1L1362.5 422.0L1365.0 420.9L1367.5 419.8L1370.0 418.6L1372.5 417.5L1375.0 416.4L1377.5 415.3L1380.0 414.1L1382.5 413.0L1385.0 411.8L1387.5 410.5L1390.0 409.1L1392.5 407.8L1395.0 406.4L1397.5 405.2L1400.0 404.0L1402.5 402.8L1405.0 401.8L1407.5 400.8L1410.0 399.8L1412.5 398.9L1415.0 398.0L1417.5 397.1L1420.0 396.2L1422.5 395.3L1425.0 394.5L1427.5 393.7L1430.0 393.0L1432.5 392.4L1435.0 391.8L1437.5 391.2L1440.0 390.7L1442.5 390.2L1445.0 389.8L1447.5 389.4L1450.0 389.0L1452.5 388.7L1455.0 388.4L1457.5 388.2L1460.0 388.0L1462.5 387.8L1465.0 387.6L1467.5 387.4L1470.0 387.2L1472.5 387.0L1475.0 386.8L1477.5 386.5L1480.0 386.2L1482.5 385.8L1485.0 385.4L1487.5 385.0L1490.0 384.5L1492.5 384.1L1495.0 383.6L1497.5 383.1L1500.0 382.6L1502.5 382.2L1505.0 381.8L1507.5 381.4L1510.0 381.0L1512.5 380.6L1515.0 380.2L1517.5 379.8L1520.0 379.4L1522.5 378.9L1525.0 378.4L1527.5 377.9L1530.0 377.3L1532.5 376.8L1535.0 376.3L1537.5 375.8L1540.0 375.3L1542.5 374.8L1545.0 374.4L1547.5 374.0L1550.0 373.7L1552.5 373.3L1555.0 373.0L1557.5 372.7L1560.0 372.3L1562.5 372.0L1565.0 371.7L1567.5 371.5L1570.0 371.3L1572.5 371.2L1575.0 371.1L1577.5 371.2L1580.0 371.3L1582.5 371.6L1585.0 371.9L1587.5 372.2L1590.0 372.6L1592.5 373.0L1595.0 373.4L1597.5 373.7L1600.0 374.0L1602.5 374.2L1605.0 374.3L1607.5 374.3L1610.0 374.3L1612.5 374.2L1615.0 374.2L1617.5 374.0L1620.0 373.9L1622.5 373.7L1625.0 373.6L1627.5 373.5L1630.0 373.4L1632.5 373.3L1635.0 373.2L1637.5 373.1L1640.0 373.0L1642.5 372.7L1645.0 372.4L1647.5 371.8L1650.0 371.2L1652.5 370.6L1655.0 369.9L1657.5 369.2L1660.0 368.5L1662.5 367.8L1665.0 367.1L1667.5 366.5L1670.0 365.9L1672.5 365.2L1675.0 364.6L1677.5 363.9L1680.0 363.2L1682.5 362.5L1685.0 361.7L1687.5 361.0L1690.0 360.3L1692.5 359.7L1695.0 359.1L1697.5 358.4L1700.0 357.6L1702.5 356.6L1705.0 355.5L1707.5 354.3L1710.0 353.1L1712.5 351.9L1715.0 350.8L1717.5 349.7L1720.0 348.6L1722.5 347.6L1725.0 346.6L1727.5 345.6L1730.0 344.7L1732.5 343.7L1735.0 342.9L1737.5 342.0L1740.0 341.2L1742.5 340.4L1745.0 339.6L1747.5 338.8L1750.0 337.9L1752.5 337.1L1755.0 336.3L1757.5 335.5L1760.0 334.7L1762.5 334.0L1765.0 333.4L1767.5 332.8L1770.0 332.2L1772.5 331.7L1775.0 331.2L1777.5 330.7L1780.0 330.2L1782.5 329.7L1785.0 329.1L1787.5 328.5L1790.0 327.8L1792.5 327.1L1795.0 326.4L1797.5 325.7L1800.0 325.0L1802.5 324.2L1805.0 323.5L1807.5 322.9L1810.0 322.2L1812.5 321.5L1815.0 320.8L1817.5 320.0L1820.0 319.1L1822.5 318.1L1825.0 317.0L1827.5 315.8L1830.0 314.5L1832.5 313.2L1835.0 311.8L1837.5 310.4L1840.0 309.0L1842.5 307.6L1845.0 306.2L1846.6 305.3" stroke="#ab47bc"/>
<path d="M10.0 483.9L12.5 483.8L15.0 483.6L17.5 483.4L20.0 483.3L22.5 483.3L25.0 483.4L27.5 483.7L30.0 484.2L32.5 484.9L35.0 485.9L37.5 487.2L40.0 488.6L42.5 490.2L45.0 491.8L47.5 493.6L50.0 495.3L52.5 497.0L55.0 498.7L57.5 500.4L60.0 502.1L62.5 503.8L65.0 505.4L67.5 507.1L70.0 508.8L72.5 510.4L75.0 512.2L77.5 513.9L80.0 515.6L82.5 517.3L85.0 518.9L87.5 520.4L90.0 521.9L92.5 523.3L95.0 524.6L97.5 525.8L100.0 527.0L102.5 528.2L105.0 529.3L107.5 530.3L110.0 531.4L112.5 532.4L115.0 533.3L117.5 534.2L120.0 534.9L122.5 535.6L125.0 536.2L127.5 536.6L130.0 536.9L132.5 537.1L135.0 537.3L137.5 537.2L140.0 537.1L142.5 536.7L145.0 536.2L147.5 535.5L150.0 534.6L152.5 533.5L155.0 532.2L157.5 530.8L160.0 529.2L162.5 527.5L165.0 525.8L167.5 524.1L170.0 522.2L172.5 520.3L175.0 518.4L177.5 516.4L180.0 514.4L182.5 512.4L185.0 510.5L187.5 508.7L190.0 506.9L192.5 505.2L195.0 503.6L197.5 502.1L200.0 500.7L202.5 499.4L205.0 498.2L207.5 497.1L210.0 496.1L212.5 495.2L215.0 494.4L217.5 493.7L220.0 493.1L222.5 492.6L225.0 492.3L227.5 492.0L230.0 491.8L232.5 491.7L235.0 491.7L237.5 491.8L240.0 492.0L242.5 492.4L245.0 493.0L247.5 493.6L250.0 494.4L252.5 495.3L255.0 496.3L257.5 497.3L260.0 498.4L262.5 499.6L265.0 500.7L267.5 501.9L270.0 502.9L272.5 503.9L275.0 504.7L277.5 505.4L280.0 505.9L282.5 506.4L285.0 506.7L287.5 506.9L290.0 507.0L292.5 507.0L295.0 507.0L297.5 506.9L300.0 506.8L302.5 506.5L305.0 506.1L307.5 505.5L310.0 504.9L312.5 504.2L315.0 503.5L317.5 502.8L320.0 502.0L322.5 501.2L325.0 500.4L327.5 499.5L330.0 498.5L332.5 497.6L335.0 496.6L337.5 495.6L340.0 494.6L342.5 493.6L345.0 492.5L347.5 491.4L350.0 490.2L352.5 488.9L355.0 487.6L357.5 486.3L360.0 485.0L362.5 483.6L365.0 482.3L367.5 480.9L370.0 479.5L372.5 478.1L375.0 476.7L377.5 475.4L380.0 474.1L382.5 472.8L385.0 471.5L387.5 470.2L390.0 469.0L392.5 467.7L395.0 466.4L397.5 465.1L400.0 463.9L402.5 462.6L405.0 461.4L407.5 460.3L410.0 459.3L412.5 458.3L415.0 457.5L417.5 456.6L420.0 455.8L422.5 455.1L425.0 454.3L427.5 453.6L430.0 452.9L432.5 452.2L435.0 451.5L437.5 450.8L440.0 450.0L442.5 449.2L445.0 448.5L447.5 448.0L450.0 447.5L452.5 447.1L455.0 446.8L457.5 446.6L460.0 446.4L462.5 446.3L465.0 446.3L467.5 446.2L470.0 446.2L472.5 446.2L475.0 446.2L477.5 446.1L480.0 446.0L482.5 445.9L485.0 445.7L487.5 445.5L490.0 445.2L492.5 444.9L495.0 444.4L497.5 443.9L500.0 443.2L502.5 442.6L505.0 441.9L507.5 441.2L510.0 440.4L512.5 439.6L515.0 438.8L517.5 437.9L520.0 436.9L522.5 435.9L525.0 434.9L527.5 433.9L530.0 432.7L532.5 431.6L535.0 430.4L537.5 429.3L540.0 428.4L542.5 427.6L545.0 426.9L547.5 426.1L550.0 425.2L552.5 424.2L555.0 423.2L557.5 422.2L560.0 421.2L562.5 420.3L565.0 419.3L567.5 418.4L570.0 417.5L572.5 416.6L575.0 415.7L577.5 414.9L580.0 414.0L582.5 413.1L585.0 412.3L587.5 411.5L590.0 410.7L592.5 409.9L595.0 409.1L597.5 408.1L600.0 407.2L602.5 406.1L605.0 405.1L607.5 404.0L610.0 403.0L612.5 402.0L615.0 401.0L617.5 400.0L620.0 399.0L622.5 398.1L625.0 397.3L627.5 396.7L630.0 396.2L632.5 395.8L635.0 395.6L637.5 395.5L640.0 395.4L642.5 395.4L645.0 395.6L647.5 395.8L650.0 396.1L652.5 396.5L655.0 397.1L657.5 397.6L660.0 398.1L662.5 398.6L665.0 398.9L667.5 399.1L670.0 399.2L672.5 399.1L675.0 398.9L677.5 398.6L680.0 398.3L682.5 397.8L685.0 397.2L687.5 396.5L690.0 395.8L692.5 395.0L695.0 394.1L697.5 393.1L700.0 392.2L702.5 391.3L705.0 390.3L707.5 389.5L710.0 388.6L712.5 387.7L715.0 386.9L717.5 386.2L720.0 385.6L722.5 385.2L725.0 385.1L727.5 385.3L730.0 385.9L732.5 386.9L735.0 388.3L737.5 390.1L740.0 392.3L742.5 394.8L745.0 397.6L747.5 400.8L750.0 404.2L752.5 407.9L755.0 411.8L757.5 415.7L760.0 419.7L762.5 423.7L765.0 427.8L767.5 432.0L770.0 436.2L772.5 440.6L775.0 445.3L777.5 450.4L780.0 456.0L782.5 462.2L785.0 469.0L787.5 476.1L790.0 483.7L792.5 491.7L795.0 500.1L797.5 508.8L800.0 517.8L802.5 527.0L805.0 536.6L807.5 546.4L810.0 556.4L812.5 566.4L815.0 576.8L817.5 588.2L820.0 600.8L822.5 613.9L825.0 626.6L827.5 638.8L830.0 650.3L832.5 661.6L835.0 672.7L837.5 682.9L840.0 691.5L842.5 698.7L845.0 705.0L847.5 710.6L850.0 715.4L852.5 719.5L855.0 723.0L857.5 726.1L860.0 728.9L862.5 731.4L865.0 733.7L867.5 735.8L870.0 737.8L872.5 739.3L875.0 740.1L877.5 740.1L880.0 739.2L882.5 737.6L885.0 735.1L887.5 732.0L890.0 728.2L892.5 723.8L895.0 718.9L897.5 713.4L900.0 707.5L902.5 701.3L905.0 695.0L907.5 688.3L910.0 680.8L912.5 672.9L915.0 665.6L917.5 659.0L920.0 652.5L922.5 646.1L925.0 639.7L927.5 633.2L930.0 626.9L932.5 620.7L935.0 614.5L937.5 607.9L940.0 600.5L942.5 593.3L945.0 586.9L947.5 581.2L950.0 575.8L952.5 570.5L955.0 565.5L957.5 560.5L960.0 555.7L962.5 551.1L965.0 546.7L967.5 542.7L970.0 538.9L972.5 535.7L975.0 532.8L977.5 530.3L980.0 528.1L982.5 526.1L985.0 524.1L987.5 522.1L990.0 519.9L992.5 517.5L995.0 515.3L997.5 513.6L1000.0 512.4L1002.5 511.5L1005.0 510.9L1007.5 510.6L1010.0 510.4L1012.5 510.2L1015.0 510.1L1017.5 510.0L1020.0 509.9L1022.5 509.6L1025.0 509.4L1027.5 509.1L1030.0 508.7L1032.5 508.2L1035.0 507.6L1037.5 507.1L1040.0 506.5L1042.5 505.9L1045.0 505.3L1047.5 504.5L1050.0 503.4L1052.5 502.2L1055.0 500.7L1057.5 499.2L1060.0 497.6L1062.5 496.0L1065.0 494.3L1067.5 492.5L1070.0 490.7L1072.5 488.7L1075.0 486.7L1077.5 484.4L1080.0 482.1L1082.5 479.5L1085.0 476.7L1087.5 473.9L1090.0 470.9L1092.5 467.9L1095.0 464.9L1097.5 461.8L1100.0 458.9L1102.5 456.2L1105.0 453.8L1107.5 451.7L1110.0 450.1L1112.5 448.8L1115.0 447.6L1117.5 446.5L1120.0 445.5L1122.5 444.6L1125.0 443.8L1127.5 443.1L1130.0 442.4L1132.5 441.8L1135.0 441.4L1137.5 441.0L1140.0 440.7L1142.5 440.6L1145.0 440.5L1147.5 440.4L1150.0 440.5L1152.5 440.7L1155.0 441.0L1157.5 441.5L1160.0 442.2L1162.5 443.0L1165.0 443.9L1167.5 444.9L1170.0 445.7L1172.5 446.6L1175.0 447.4L1177.5 448.1L1180.0 448.6L1182.5 449.1L1185.0 449.5L1187.5 449.7L1190.0 449.8L1192.5 449.7L1195.0 449.6L1197.5 449.3L1200.0 449.0L1202.5 448.6L1205.0 448.2L1207.5 447.7L1210.0 447.1L1212.5 446.5L1215.0 445.8L1217.5 445.0L1220.0 444.3L1222.5 443.5L1225.0 442.7L1227.5 441.8L1230.0 440.8L1232.5 439.4L1235.0 437.7L1237.5 436.1L1240.0 434.4L1242.5 432.8L1245.0 431.3L1247.5 429.8L1250.0 428.4L1252.5 427.2L1255.0 426.0L1257.5 424.9L1260.0 423.9L1262.5 422.7L1265.0 421.6L1267.5 420.4L1270.0 419.3L1272.5 418.1L1275.0 417.0L1277.5 415.9L1280.0 414.8L1282.5 413.6L1285.0 412.4L1287.5 411.2L1290.0 409.9L1292.5 408.5L1295.0 407.1L1297.5 405.6L1300.0 404.1L1302.5 402.6L1305.0 401.1L1307.5 399.6L1310.0 398.1L1312.5 396.6L1315.0 395.1L1317.5 393.6L1320.0 392.1L1322.5 390.6L1325.0 389.1L1327.5 387.7L1330.0 386.3L1332.5 384.9L1335.0 383.6L1337.5 382.3L1340.0 381.1L1342.5 379.9L1345.0 378.8L1347.5 377.7L1350.0 376.6L1352.5 375.5L1355.0 374.5L1357.5 373.6L1360.0 372.5L1362.5 371.2L1365.0 369.8L1367.5 368.3L1370.0 366.8L1372.5 365.3L1375.0 363.6L1377.5 361.9L1380.0 360.1L1382.5 358.2L1385.0 356.2L1387.5 354.2L1390.0 352.1L1392.5 350.2L1395.0 348.5L1397.5 347.2L1400.0 346.0L1402.5 345.1L1405.0 344.4L1407.5 344.1L1410.0 344.0L1412.5 344.3L1415.0 345.0L1417.5 345.9L1420.0 347.0L1422.5 348.2L1425.0 349.4L1427.5 350.6L1430.0 351.9L1432.5 353.1L1435.0 354.3L1437.5 355.5L1440.0 356.7L1442.5 358.0L1445.0 359.4L1447.5 360.9L1450.0 362.6L1452.5 364.3L1455.0 366.1L1457.5 367.9L1460.0 369.8L1462.5 371.9L1465.0 374.0L1467.5 376.1L1470.0 378.4L1472.5 380.6L1475.0 382.8L1477.5 384.8L1480.0 386.7L1482.5 388.5L1485.0 390.1L1487.5 391.4L1490.0 392.6L1492.5 393.7L1495.0 394.6L1497.5 395.3L1500.0 395.9L1502.5 396.3L1505.0 396.6L1507.5 396.8L1510.0 396.7L1512.5 396.6L1515.0 396.2L1517.5 395.6L1520.0 394.7L1522.5 393.7L1525.0 392.4L1527.5 390.8L1530.0 389.1L1532.5 387.1L1535.0 385.1L1537.5 382.9L1540.0 380.6L1542.5 378.3L1545.0 376.0L1547.5 373.8L1550.0 371.7L1552.5 369.7L1555.0 367.8L1557.5 366.1L1560.0 364.6L1562.5 363.2L1565.0 361.9L1567.5 360.8L1570.0 359.8L1572.5 359.0L1575.0 358.4L1577.5 357.9L1580.0 357.7L1582.5 357.6L1585.0 357.8L1587.5 358.3L1590.0 359.0L1592.5 360.0L1595.0 361.2L1597.5 362.6L1600.0 364.0L1602.5 365.4L1605.0 366.7L1607.5 367.9L1610.0 368.9L1612.5 369.7L1615.0 370.1L1617.5 370.3L1620.0 370.3L1622.5 370.0L1625.0 369.5L1627.5 368.9L1630.0 368.0L1632.5 366.9L1635.0 365.7L1637.5 364.3L1640.0 362.8L1642.5 361.1L1645.0 359.3L1647.5 357.5L1650.0 355.6L1652.5 353.7L1655.0 351.7L1657.5 349.8L1660.0 347.8L1662.5 345.9L1665.0 344.0L1667.5 342.1L1670.0 340.2L1672.5 338.3L1675.0 336.5L1677.5 334.6L1680.0 332.8L1682.5 331.0L1685.0 329.2L1687.5 327.3L1690.0 325.5L1692.5 323.5L1695.0 321.4L1697.5 319.2L1700.0 317.0L1702.5 314.8L1705.0 312.6L1707.5 310.3L1710.0 308.1L1712.5 306.0L1715.0 304.0L1717.5 302.0L1720.0 300.1L1722.5 298.2L1725.0 296.5L1727.5 294.9L1730.0 293.6L1732.5 292.4L1735.0 291.4L1737.5 290.5L1740.0 289.8L1742.5 289.3L1745.0 288.8L1747.5 288.3L1750.0 287.9L1752.5 287.4L1755.0 287.0L1757.5 286.5L1760.0 286.0L1762.5 285.5L1765.0 285.0L1767.5 284.6L1770.0 284.2L1772.5 283.8L1775.0 283.5L1777.5 283.3L1780.0 283.0L1782.5 282.8L1785.0 282.6L1787.5 282.4L1790.0 282.2L1792.5 281.9L1795.0 281.7L1797.5 281.4L1800.0 281.2L1802.5 281.0L1805.0 280.7L1807.5 280.6L1810.0 280.4L1812.5 280.3L1815.0 280.2L1817.5 280.1L1820.0 279.9L1822.5 279.5L1825.0 279.1L1827.5 278.5L1830.0 277.8L1832.5 277.0L1835.0 276.2L1837.5 275.3L1840.0 274.4L1842.5 273.6L1845.0 272.8L1846.6 272.2" stroke="#2f76f2"/>
</g>
<path d="M18.5 488V494M16.0 493.5H18.5M18.5 490.5H21.0M43.5 532V544M41.0 541.5H43.5M43.5 534.5H46.0M48.5 529V550M46.0 548.5H48.5M48.5 532.5H51.0M53.5 514V527M51.0 523.5H53.5M53.5 517.5H56.0M67.5 512V534M65.0 531.5H67.5M67.5 518.5H70.0M77.5 541V550M75.0 548.5H77.5M77.5 543.5H80.0M82.5 529V538M80.0 536.5H82.5M82.5 530.5H85.0M87.5 516V521M85.0 520.5H87.5M87.5 517.5H90.0M97.5 517V520M95.0 520.5H97.5M97.5 518.5H100.0M112.5 533V541M110.0 540.5H112.5M112.5 535.5H115.0M122.5 530V541M120.0 539.5H122.5M122.5 532.5H125.0M127.5 517V524M125.0 522.5H127.5M127.5 518.5H130.0M142.5 514V519M140.0 517.5H142.5M142.5 515.5H145.0M147.5 498V507M145.0 505.5H147.5M147.5 499.5H150.0M162.5 502V508M160.0 507.5H162.5M162.5 503.5H165.0M167.5 494V501M165.0 500.5H167.5M167.5 496.5H170.0M172.5 487V494M170.0 492.5H172.5M172.5 489.5H175.0M182.5 494V497M180.0 496.5H182.5M182.5 494.5H185.0M187.5 492V496M185.0 495.5H187.5M187.5 493.5H190.0M192.5 491V501M190.0 498.5H192.5M192.5 493.5H195.0M206.5 494V499M204.0 498.5H206.5M206.5 495.5H209.0M216.5 497V509M214.0 506.5H216.5M216.5 498.5H219.0M231.5 499V504M229.0 503.5H231.5M231.5 500.5H234.0M246.5 523V541M244.0 538.5H246.5M246.5 526.5H249.0M251.5 509V519M249.0 517.5H251.5M251.5 511.5H254.0M266.5 520V524M264.0 523.5H266.5M266.5 520.5H269.0M271.5 512V521M269.0 519.5H271.5M271.5 513.5H274.0M276.5 497V505M274.0 504.5H276.5M276.5 497.5H279.0M281.5 503V506M279.0 505.5H281.5M281.5 504.5H284.0M286.5 494V502M284.0 500.5H286.5M286.5 496.5H289.0M291.5 496V499M289.0 498.5H291.5M291.5 496.5H294.0M306.5 492V495M304.0 494.5H306.5M306.5 493.5H309.0M316.5 492V497M314.0 496.5H316.5M316.5 493.5H319.0M326.5 485V493M324.0 492.5H326.5M326.5 486.5H329.0M331.5 481V484M329.0 483.5H331.5M331.5 481.5H334.0M336.5 480V482M334.0 482.5H336.5M336.5 480.5H339.0M341.5 479V485M339.0 484.5H341.5M341.5 479.5H344.0M351.5 473V478M349.0 477.5H351.5M351.5 474.5H354.0M365.5 469V473M363.0 472.5H365.5M365.5 470.5H368.0M375.5 465V470M373.0 470.5H375.5M375.5 466.5H378.0M380.5 466V469M378.0 469.5H380.5M380.5 467.5H383.0M385.5 462V467M383.0 466.5H385.5M385.5 463.5H388.0M390.5 463V469M388.0 467.5H390.5M390.5 464.5H393.0M395.5 464V467M393.0 467.5H395.5M395.5 464.5H398.0M400.5 456V461M398.0 460.5H400.5M400.5 457.5H403.0M405.5 456V459M403.0 458.5H405.5M405.5 456.5H408.0M430.5 453V456M428.0 456.5H430.5M430.5 453.5H433.0M435.5 450V453M433.0 452.5H435.5M435.5 451.5H438.0M440.5 446V449M438.0 449.5H440.5M440.5 447.5H443.0M455.5 464V472M453.0 471.5H455.5M455.5 466.5H458.0M460.5 457V461M458.0 461.5H460.5M460.5 458.5H463.0M470.5 447V452M468.0 451.5H470.5M470.5 449.5H473.0M485.5 450V452M483.0 452.5H485.5M485.5 450.5H488.0M490.5 439V451M488.0 449.5H490.5M490.5 440.5H493.0M495.5 437V444M493.0 442.5H495.5M495.5 439.5H498.0M500.5 434V437M498.0 436.5H500.5M500.5 434.5H503.0M514.5 430V434M512.0 433.5H514.5M514.5 431.5H517.0M534.5 420V424M532.0 423.5H534.5M534.5 421.5H537.0M549.5 423V428M547.0 428.5H549.5M549.5 424.5H552.0M554.5 415V421M552.0 420.5H554.5M554.5 417.5H557.0M559.5 418V424M557.0 423.5H559.5M559.5 419.5H562.0M564.5 418V428M562.0 426.5H564.5M564.5 421.5H567.0M574.5 412V421M572.0 420.5H574.5M574.5 413.5H577.0M579.5 410V413M577.0 412.5H579.5M579.5 411.5H582.0M589.5 406V413M587.0 411.5H589.5M589.5 407.5H592.0M599.5 403V407M597.0 406.5H599.5M599.5 404.5H602.0M604.5 398V401M602.0 401.5H604.5M604.5 399.5H607.0M609.5 394V397M607.0 397.5H609.5M609.5 395.5H612.0M624.5 395V401M622.0 400.5H624.5M624.5 396.5H627.0M639.5 407V416M637.0 415.5H639.5M639.5 409.5H642.0M649.5 407V419M647.0 416.5H649.5M649.5 408.5H652.0M658.5 413V422M656.0 420.5H658.5M658.5 415.5H661.0M663.5 401V408M661.0 406.5H663.5M663.5 402.5H666.0M668.5 393V398M666.0 397.5H668.5M668.5 394.5H671.0M673.5 389V392M671.0 392.5H673.5M673.5 390.5H676.0M683.5 388V397M681.0 395.5H683.5M683.5 391.5H686.0M693.5 379V383M691.0 382.5H693.5M693.5 380.5H696.0M698.5 378V384M696.0 383.5H698.5M698.5 380.5H701.0M703.5 380V383M701.0 382.5H703.5M703.5 381.5H706.0M708.5 381V387M706.0 386.5H708.5M708.5 382.5H711.0M713.5 376V380M711.0 379.5H713.5M713.5 377.5H716.0M748.5 508V541M746.0 533.5H748.5M748.5 511.5H751.0M753.5 465V512M751.0 499.5H753.5M753.5 477.5H756.0M763.5 453V483M761.0 480.5H763.5M763.5 460.5H766.0M773.5 498V526M771.0 518.5H773.5M773.5 502.5H776.0M783.5 532V583M781.0 569.5H783.5M783.5 547.5H786.0M798.5 591V670M796.0 658.5H798.5M798.5 600.5H801.0M807.5 648V720M805.0 708.5H807.5M807.5 663.5H810.0M817.5 681V740M815.0 728.5H817.5M817.5 694.5H820.0M832.5 689V730M830.0 724.5H832.5M832.5 693.5H835.0M837.5 643V704M835.0 689.5H837.5M837.5 648.5H840.0M842.5 617V667M840.0 662.5H842.5M842.5 624.5H845.0M852.5 619V650M850.0 646.5H852.5M852.5 627.5H855.0M867.5 656V686M865.0 683.5H867.5M867.5 659.5H870.0M877.5 603V640M875.0 629.5H877.5M877.5 607.5H880.0M887.5 574V608M885.0 599.5H887.5M887.5 578.5H890.0M892.5 554V573M890.0 568.5H892.5M892.5 556.5H895.0M902.5 542V558M900.0 553.5H902.5M902.5 545.5H905.0M912.5 558V572M910.0 570.5H912.5M912.5 560.5H915.0M917.5 534V549M915.0 547.5H917.5M917.5 535.5H920.0M932.5 556V568M930.0 566.5H932.5M932.5 559.5H935.0M942.5 546V562M940.0 561.5H942.5M942.5 549.5H945.0M947.5 530V542M945.0 541.5H947.5M947.5 532.5H950.0M956.5 508V521M954.0 519.5H956.5M956.5 510.5H959.0M971.5 545V561M969.0 557.5H971.5M971.5 548.5H974.0M986.5 526V534M984.0 532.5H986.5M986.5 528.5H989.0M991.5 517V524M989.0 523.5H991.5M991.5 519.5H994.0M996.5 513V525M994.0 523.5H996.5M996.5 515.5H999.0M1011.5 542V570M1009.0 567.5H1011.5M1011.5 546.5H1014.0M1016.5 538V554M1014.0 549.5H1016.5M1016.5 540.5H1019.0M1021.5 504V522M1019.0 518.5H1021.5M1021.5 509.5H1024.0M1031.5 500V508M1029.0 507.5H1031.5M1031.5 502.5H1034.0M1041.5 508V515M1039.0 513.5H1041.5M1041.5 509.5H1044.0M1051.5 482V504M1049.0 497.5H1051.5M1051.5 485.5H1054.0M1061.5 478V494M1059.0 491.5H1061.5M1061.5 480.5H1064.0M1066.5 475V484M1064.0 482.5H1066.5M1066.5 476.5H1069.0M1071.5 468V478M1069.0 476.5H1071.5M1071.5 469.5H1074.0M1076.5 453V463M1074.0 461.5H1076.5M1076.5 454.5H1079.0M1081.5 455V465M1079.0 464.5H1081.5M1081.5 456.5H1084.0M1086.5 429V443M1084.0 442.5H1086.5M1086.5 430.5H1089.0M1091.5 422V433M1089.0 432.5H1091.5M1091.5 424.5H1094.0M1115.5 469V505M1113.0 501.5H1115.5M1115.5 480.5H1118.0M1130.5 456V464M1128.0 462.5H1130.5M1130.5 458.5H1133.0M1140.5 456V468M1138.0 466.5H1140.5M1140.5 458.5H1143.0M1155.5 467V485M1153.0 480.5H1155.5M1155.5 471.5H1158.0M1165.5 478V494M1163.0 492.5H1165.5M1165.5 480.5H1168.0M1170.5 459V479M1168.0 476.5H1170.5M1170.5 461.5H1173.0M1175.5 455V462M1173.0 460.5H1175.5M1175.5 455.5H1178.0M1185.5 437V446M1183.0 444.5H1185.5M1185.5 439.5H1188.0M1195.5 441V450M1193.0 448.5H1195.5M1195.5 443.5H1198.0M1205.5 436V451M1203.0 449.5H1205.5M1205.5 440.5H1208.0M1215.5 432V454M1213.0 451.5H1215.5M1215.5 434.5H1218.0M1220.5 421V432M1218.0 431.5H1220.5M1220.5 424.5H1223.0M1225.5 426V433M1223.0 431.5H1225.5M1225.5 428.5H1228.0M1230.5 423V428M1228.0 428.5H1230.5M1230.5 424.5H1233.0M1235.5 415V428M1233.0 425.5H1235.5M1235.5 418.5H1238.0M1245.5 410V416M1243.0 416.5H1245.5M1245.5 411.5H1248.0M1259.5 420V427M1257.0 427.5H1259.5M1259.5 422.5H1262.0M1269.5 414V424M1267.0 421.5H1269.5M1269.5 416.5H1272.0M1274.5 417V431M1272.0 429.5H1274.5M1274.5 420.5H1277.0M1279.5 411V426M1277.0 423.5H1279.5M1279.5 414.5H1282.0M1284.5 402V407M1282.0 407.5H1284.5M1284.5 403.5H1287.0M1289.5 401V407M1287.0 406.5H1289.5M1289.5 403.5H1292.0M1294.5 394V398M1292.0 397.5H1294.5M1294.5 395.5H1297.0M1299.5 388V397M1297.0 395.5H1299.5M1299.5 389.5H1302.0M1304.5 389V394M1302.0 392.5H1304.5M1304.5 390.5H1307.0M1309.5 385V392M1307.0 391.5H1309.5M1309.5 386.5H1312.0M1319.5 378V387M1317.0 385.5H1319.5M1319.5 379.5H1322.0M1324.5 379V384M1322.0 383.5H1324.5M1324.5 379.5H1327.0M1329.5 381V385M1327.0 385.5H1329.5M1329.5 382.5H1332.0M1334.5 378V380M1332.0 380.5H1334.5M1334.5 378.5H1337.0M1339.5 375V382M1337.0 380.5H1339.5M1339.5 377.5H1342.0M1349.5 378V387M1347.0 386.5H1349.5M1349.5 380.5H1352.0M1354.5 374V379M1352.0 379.5H1354.5M1354.5 375.5H1357.0M1359.5 365V370M1357.0 369.5H1359.5M1359.5 366.5H1362.0M1364.5 362V367M1362.0 366.5H1364.5M1364.5 363.5H1367.0M1369.5 352V362M1367.0 359.5H1369.5M1369.5 354.5H1372.0M1379.5 344V351M1377.0 350.5H1379.5M1379.5 346.5H1382.0M1389.5 339V348M1387.0 346.5H1389.5M1389.5 341.5H1392.0M1394.5 323V337M1392.0 335.5H1394.5M1394.5 325.5H1397.0M1413.5 367V382M1411.0 378.5H1413.5M1413.5 369.5H1416.0M1428.5 373V384M1426.0 382.5H1428.5M1428.5 375.5H1431.0M1443.5 382V394M1441.0 390.5H1443.5M1443.5 384.5H1446.0M1458.5 397V411M1456.0 408.5H1458.5M1458.5 400.5H1461.0M1468.5 409V429M1466.0 427.5H1468.5M1468.5 412.5H1471.0M1473.5 401V424M1471.0 422.5H1473.5M1473.5 408.5H1476.0M1478.5 384V392M1476.0 391.5H1478.5M1478.5 386.5H1481.0M1488.5 376V391M1486.0 389.5H1488.5M1488.5 381.5H1491.0M1498.5 383V396M1496.0 394.5H1498.5M1498.5 386.5H1501.0M1503.5 371V382M1501.0 381.5H1503.5M1503.5 372.5H1506.0M1513.5 368V378M1511.0 376.5H1513.5M1513.5 370.5H1516.0M1518.5 362V365M1516.0 364.5H1518.5M1518.5 363.5H1521.0M1523.5 352V358M1521.0 357.5H1523.5M1523.5 353.5H1526.0M1528.5 333V346M1526.0 344.5H1528.5M1528.5 335.5H1531.0M1543.5 349V363M1541.0 359.5H1543.5M1543.5 352.5H1546.0M1557.5 353V364M1555.0 362.5H1557.5M1557.5 355.5H1560.0M1567.5 357V370M1565.0 369.5H1567.5M1567.5 361.5H1570.0M1572.5 356V363M1570.0 361.5H1572.5M1572.5 358.5H1575.0M1592.5 391V414M1590.0 408.5H1592.5M1592.5 398.5H1595.0M1602.5 394V409M1600.0 405.5H1602.5M1602.5 395.5H1605.0M1607.5 377V392M1605.0 389.5H1607.5M1607.5 381.5H1610.0M1612.5 350V372M1610.0 370.5H1612.5M1612.5 355.5H1615.0M1617.5 338V350M1615.0 346.5H1617.5M1617.5 340.5H1620.0M1622.5 340V351M1620.0 348.5H1622.5M1622.5 343.5H1625.0M1632.5 331V343M1630.0 342.5H1632.5M1632.5 332.5H1635.0M1637.5 324V331M1635.0 329.5H1637.5M1637.5 326.5H1640.0M1647.5 321V332M1645.0 329.5H1647.5M1647.5 323.5H1650.0M1652.5 312V319M1650.0 317.5H1652.5M1652.5 313.5H1655.0M1667.5 323V334M1665.0 332.5H1667.5M1667.5 326.5H1670.0M1677.5 322V332M1675.0 330.5H1677.5M1677.5 325.5H1680.0M1682.5 308V321M1680.0 319.5H1682.5M1682.5 310.5H1685.0M1701.5 299V307M1699.0 305.5H1701.5M1701.5 300.5H1704.0M1706.5 301V308M1704.0 306.5H1706.5M1706.5 303.5H1709.0M1716.5 293V300M1714.0 299.5H1716.5M1716.5 294.5H1719.0M1726.5 292V298M1724.0 298.5H1726.5M1726.5 293.5H1729.0M1736.5 299V307M1734.0 306.5H1736.5M1736.5 301.5H1739.0M1741.5 303V311M1739.0 308.5H1741.5M1741.5 305.5H1744.0M1751.5 294V304M1749.0 302.5H1751.5M1751.5 296.5H1754.0M1756.5 291V296M1754.0 295.5H1756.5M1756.5 292.5H1759.0M1761.5 287V290M1759.0 289.5H1761.5M1761.5 288.5H1764.0M1771.5 292V310M1769.0 307.5H1771.5M1771.5 297.5H1774.0M1786.5 292V296M1784.0 295.5H1786.5M1786.5 293.5H1789.0M1791.5 283V287M1789.0 286.5H1791.5M1791.5 283.5H1794.0M1806.5 278V286M1804.0 285.5H1806.5M1806.5 279.5H1809.0M1816.5 284V294M1814.0 293.5H1816.5M1816.5 285.5H1819.0M1821.5 273V292M1819.0 288.5H1821.5M1821.5 274.5H1824.0M1826.5 265V277M1824.0 274.5H1826.5M1826.5 268.5H1829.0M1831.5 261V272M1829.0 269.5H1831.5M1831.5 264.5H1834.0M1845.5 262V268M1843.0 267.5H1845.5M1845.5 263.5H1848.0" stroke="#26a69a" stroke-width="1" fill="none" shape-rendering="crispEdges"/>
<path d="M13.5 486V488M11.0 486.5H13.5M13.5 488.5H16.0M23.5 488V506M21.0 492.5H23.5M23.5 503.5H26.0M28.5 490V509M26.0 492.5H28.5M28.5 505.5H31.0M33.5 511V522M31.0 512.5H33.5M33.5 520.5H36.0M38.5 527V551M36.0 529.5H38.5M38.5 549.5H41.0M57.5 516V525M55.0 518.5H57.5M57.5 524.5H60.0M62.5 524V534M60.0 527.5H62.5M62.5 534.5H65.0M72.5 528V546M70.0 530.5H72.5M72.5 544.5H75.0M92.5 518V527M90.0 520.5H92.5M92.5 526.5H95.0M102.5 514V524M100.0 517.5H102.5M102.5 523.5H105.0M107.5 519V548M105.0 523.5H107.5M107.5 542.5H110.0M117.5 527V539M115.0 530.5H117.5M117.5 536.5H120.0M132.5 513V521M130.0 515.5H132.5M132.5 520.5H135.0M137.5 522V529M135.0 524.5H137.5M137.5 528.5H140.0M152.5 499V502M150.0 499.5H152.5M152.5 501.5H155.0M157.5 497V504M155.0 499.5H157.5M157.5 502.5H160.0M177.5 488V492M175.0 489.5H177.5M177.5 491.5H180.0M197.5 487V493M195.0 489.5H197.5M197.5 492.5H200.0M202.5 489V499M200.0 491.5H202.5M202.5 496.5H205.0M211.5 491V508M209.0 493.5H211.5M211.5 506.5H214.0M221.5 498V505M219.0 499.5H221.5M221.5 504.5H224.0M226.5 499V510M224.0 500.5H226.5M226.5 507.5H229.0M236.5 496V514M234.0 500.5H236.5M236.5 509.5H239.0M241.5 518V534M239.0 522.5H241.5M241.5 530.5H244.0M256.5 507V514M254.0 509.5H256.5M256.5 514.5H259.0M261.5 519V529M259.0 521.5H261.5M261.5 527.5H264.0M296.5 491V496M294.0 493.5H296.5M296.5 496.5H299.0M301.5 495V501M299.0 496.5H301.5M301.5 500.5H304.0M311.5 490V496M309.0 491.5H311.5M311.5 495.5H314.0M321.5 490V494M319.0 490.5H321.5M321.5 493.5H324.0M346.5 479V487M344.0 480.5H346.5M346.5 485.5H349.0M355.5 467V470M353.0 468.5H355.5M355.5 469.5H358.0M360.5 468V471M358.0 469.5H360.5M360.5 471.5H363.0M370.5 463V469M368.0 464.5H370.5M370.5 468.5H373.0M410.5 454V458M408.0 455.5H410.5M410.5 457.5H413.0M415.5 457V465M413.0 458.5H415.5M415.5 464.5H418.0M420.5 460V463M418.0 461.5H420.5M420.5 462.5H423.0M425.5 459V463M423.0 460.5H425.5M425.5 462.5H428.0M445.5 447V449M443.0 448.5H445.5M445.5 449.5H448.0M450.5 449V459M448.0 450.5H450.5M450.5 457.5H453.0M465.5 457V461M463.0 458.5H465.5M465.5 460.5H468.0M475.5 448V452M473.0 449.5H475.5M475.5 451.5H478.0M480.5 451V455M478.0 452.5H480.5M480.5 454.5H483.0M504.5 433V435M502.0 434.5H504.5M504.5 434.5H507.0M509.5 434V435M507.0 434.5H509.5M509.5 435.5H512.0M519.5 424V426M517.0 425.5H519.5M519.5 426.5H522.0M524.5 424V425M522.0 424.5H524.5M524.5 425.5H527.0M529.5 424V426M527.0 424.5H529.5M529.5 425.5H532.0M539.5 418V421M537.0 419.5H539.5M539.5 420.5H542.0M544.5 420V427M542.0 422.5H544.5M544.5 426.5H547.0M569.5 419V422M567.0 420.5H569.5M569.5 421.5H572.0M584.5 409V413M582.0 410.5H584.5M584.5 412.5H587.0M594.5 405V408M592.0 406.5H594.5M594.5 408.5H597.0M614.5 395V398M612.0 395.5H614.5M614.5 397.5H617.0M619.5 392V397M617.0 393.5H619.5M619.5 396.5H622.0M629.5 393V408M627.0 396.5H629.5M629.5 404.5H632.0M634.5 415V422M632.0 416.5H634.5M634.5 421.5H637.0M644.5 405V411M642.0 406.5H644.5M644.5 410.5H647.0M653.5 408V427M651.0 410.5H653.5M653.5 424.5H656.0M678.5 391V396M676.0 392.5H678.5M678.5 395.5H681.0M688.5 381V387M686.0 382.5H688.5M688.5 385.5H691.0M718.5 377V391M716.0 380.5H718.5M718.5 387.5H721.0M723.5 385V393M721.0 388.5H723.5M723.5 392.5H726.0M728.5 414V428M726.0 417.5H728.5M728.5 424.5H731.0M733.5 418V457M731.0 428.5H733.5M733.5 452.5H736.0M738.5 437V460M736.0 439.5H738.5M738.5 456.5H741.0M743.5 463V501M741.0 467.5H743.5M743.5 496.5H746.0M758.5 451V501M756.0 457.5H758.5M758.5 489.5H761.0M768.5 468V494M766.0 475.5H768.5M768.5 486.5H771.0M778.5 538V583M776.0 546.5H778.5M778.5 574.5H781.0M788.5 551V592M786.0 556.5H788.5M788.5 585.5H791.0M793.5 609V677M791.0 622.5H793.5M793.5 666.5H796.0M802.5 645V715M800.0 662.5H802.5M802.5 709.5H805.0M812.5 686V755M810.0 692.5H812.5M812.5 745.5H815.0M822.5 687V750M820.0 693.5H822.5M822.5 731.5H825.0M827.5 748V794M825.0 760.5H827.5M827.5 780.5H830.0M847.5 625V661M845.0 632.5H847.5M847.5 651.5H850.0M857.5 616V642M855.0 619.5H857.5M857.5 635.5H860.0M862.5 660V689M860.0 666.5H862.5M862.5 682.5H865.0M872.5 654V684M870.0 661.5H872.5M872.5 679.5H875.0M882.5 575V610M880.0 583.5H882.5M882.5 601.5H885.0M897.5 566V587M895.0 570.5H897.5M897.5 584.5H900.0M907.5 559V573M905.0 561.5H907.5M907.5 571.5H910.0M922.5 537V553M920.0 539.5H922.5M922.5 551.5H925.0M927.5 565V585M925.0 568.5H927.5M927.5 582.5H930.0M937.5 545V562M935.0 548.5H937.5M937.5 560.5H940.0M951.5 519V539M949.0 524.5H951.5M951.5 535.5H954.0M961.5 516V528M959.0 519.5H961.5M961.5 527.5H964.0M966.5 537V550M964.0 541.5H966.5M966.5 548.5H969.0M976.5 527V539M974.0 529.5H976.5M976.5 536.5H979.0M981.5 528V544M979.0 532.5H981.5M981.5 539.5H984.0M1001.5 512V536M999.0 514.5H1001.5M1001.5 533.5H1004.0M1006.5 535V562M1004.0 538.5H1006.5M1006.5 555.5H1009.0M1026.5 505V519M1024.0 507.5H1026.5M1026.5 517.5H1029.0M1036.5 501V513M1034.0 502.5H1036.5M1036.5 511.5H1039.0M1046.5 487V498M1044.0 490.5H1046.5M1046.5 496.5H1049.0M1056.5 472V485M1054.0 474.5H1056.5M1056.5 483.5H1059.0M1096.5 425V434M1094.0 426.5H1096.5M1096.5 432.5H1099.0M1100.5 425V438M1098.0 428.5H1100.5M1100.5 435.5H1103.0M1105.5 455V494M1103.0 464.5H1105.5M1105.5 483.5H1108.0M1110.5 466V499M1108.0 472.5H1110.5M1110.5 494.5H1113.0M1120.5 446V470M1118.0 452.5H1120.5M1120.5 465.5H1123.0M1125.5 450V459M1123.0 451.5H1125.5M1125.5 457.5H1128.0M1135.5 446V468M1133.0 451.5H1135.5M1135.5 462.5H1138.0M1145.5 446V454M1143.0 448.5H1145.5M1145.5 452.5H1148.0M1150.5 458V484M1148.0 465.5H1150.5M1150.5 477.5H1153.0M1160.5 471V491M1158.0 476.5H1160.5M1160.5 486.5H1163.0M1180.5 442V455M1178.0 445.5H1180.5M1180.5 452.5H1183.0M1190.5 437V449M1188.0 440.5H1190.5M1190.5 448.5H1193.0M1200.5 438V458M1198.0 442.5H1200.5M1200.5 454.5H1203.0M1210.5 422V447M1208.0 428.5H1210.5M1210.5 444.5H1213.0M1240.5 410V417M1238.0 411.5H1240.5M1240.5 415.5H1243.0M1249.5 408V425M1247.0 410.5H1249.5M1249.5 422.5H1252.0M1254.5 425V432M1252.0 426.5H1254.5M1254.5 431.5H1257.0M1264.5 421V427M1262.0 421.5H1264.5M1264.5 426.5H1267.0M1314.5 379V394M1312.0 381.5H1314.5M1314.5 390.5H1317.0M1344.5 374V382M1342.0 375.5H1344.5M1344.5 380.5H1347.0M1374.5 347V355M1372.0 347.5H1374.5M1374.5 353.5H1377.0M1384.5 342V348M1382.0 344.5H1384.5M1384.5 346.5H1387.0M1398.5 329V366M1396.0 340.5H1398.5M1398.5 358.5H1401.0M1403.5 352V388M1401.0 358.5H1403.5M1403.5 382.5H1406.0M1408.5 380V394M1406.0 382.5H1408.5M1408.5 392.5H1411.0M1418.5 367V394M1416.0 371.5H1418.5M1418.5 386.5H1421.0M1423.5 383V400M1421.0 385.5H1423.5M1423.5 397.5H1426.0M1433.5 369V375M1431.0 370.5H1433.5M1433.5 373.5H1436.0M1438.5 366V378M1436.0 370.5H1438.5M1438.5 375.5H1441.0M1448.5 385V405M1446.0 391.5H1448.5M1448.5 401.5H1451.0M1453.5 407V423M1451.0 411.5H1453.5M1453.5 422.5H1456.0M1463.5 397V422M1461.0 403.5H1463.5M1463.5 416.5H1466.0M1483.5 386V394M1481.0 387.5H1483.5M1483.5 392.5H1486.0M1493.5 375V384M1491.0 377.5H1493.5M1493.5 383.5H1496.0M1508.5 365V389M1506.0 368.5H1508.5M1508.5 383.5H1511.0M1533.5 337V345M1531.0 339.5H1533.5M1533.5 344.5H1536.0M1538.5 339V352M1536.0 341.5H1538.5M1538.5 350.5H1541.0M1547.5 342V352M1545.0 344.5H1547.5M1547.5 350.5H1550.0M1552.5 346V368M1550.0 350.5H1552.5M1552.5 364.5H1555.0M1562.5 356V364M1560.0 357.5H1562.5M1562.5 363.5H1565.0M1577.5 362V384M1575.0 368.5H1577.5M1577.5 381.5H1580.0M1582.5 372V376M1580.0 372.5H1582.5M1582.5 375.5H1585.0M1587.5 390V412M1585.0 394.5H1587.5M1587.5 408.5H1590.0M1597.5 401V422M1595.0 407.5H1597.5M1597.5 420.5H1600.0M1627.5 307V332M1625.0 315.5H1627.5M1627.5 329.5H1630.0M1642.5 328V341M1640.0 332.5H1642.5M1642.5 338.5H1645.0M1657.5 313V322M1655.0 314.5H1657.5M1657.5 320.5H1660.0M1662.5 314V327M1660.0 316.5H1662.5M1662.5 324.5H1665.0M1672.5 324V331M1670.0 325.5H1672.5M1672.5 330.5H1675.0M1687.5 310V315M1685.0 311.5H1687.5M1687.5 314.5H1690.0M1692.5 308V312M1690.0 309.5H1692.5M1692.5 312.5H1695.0M1696.5 310V320M1694.0 312.5H1696.5M1696.5 319.5H1699.0M1711.5 298V304M1709.0 300.5H1711.5M1711.5 303.5H1714.0M1721.5 294V299M1719.0 295.5H1721.5M1721.5 297.5H1724.0M1731.5 290V302M1729.0 293.5H1731.5M1731.5 300.5H1734.0M1746.5 294V307M1744.0 296.5H1746.5M1746.5 306.5H1749.0M1766.5 287V297M1764.0 289.5H1766.5M1766.5 295.5H1769.0M1776.5 294V298M1774.0 295.5H1776.5M1776.5 298.5H1779.0M1781.5 291V296M1779.0 291.5H1781.5M1781.5 294.5H1784.0M1796.5 280V287M1794.0 281.5H1796.5M1796.5 285.5H1799.0M1801.5 282V285M1799.0 283.5H1801.5M1801.5 284.5H1804.0M1811.5 275V303M1809.0 279.5H1811.5M1811.5 295.5H1814.0M1836.5 263V270M1834.0 265.5H1836.5M1836.5 269.5H1839.0M1841.5 265V273M1839.0 266.5H1841.5M1841.5 271.5H1844.0" stroke="#ef5350" stroke-width="1" fill="none" shape-rendering="crispEdges"/>
<path d="M1279.0 254.0 L1313.9 416.0 M1313.9 416.0 L1325.8 397.5 M1313.9 416.0 L1295.4 404.1" stroke="#000000" stroke-width="3.2" fill="none" stroke-linecap="round"/>
<path d="M873.2 344.0 L856.3 530.2 M856.3 530.2 L873.2 516.1 M856.3 530.2 L842.2 513.3" stroke="#f23645" stroke-width="3.2" fill="none" stroke-linecap="round"/>
<path d="M509.3 565.2 L589.8 472.4 M589.8 472.4 L567.9 474.0 M589.8 472.4 L591.4 494.3" stroke="#388e3c" stroke-width="3.2" fill="none" stroke-linecap="round"/>
<path d="M1062.0 629.0 L1065.6 579.4 M1065.6 579.4 L1049.0 593.8 M1065.6 579.4 L1080.0 596.0" stroke="#7e57c2" stroke-width="3.2" fill="none" stroke-linecap="round"/>
<path d="M752.4 687.4 L833.4 695.5 M833.4 695.5 L819.5 678.5 M833.4 695.5 L816.4 709.4" stroke="#2f76f2" stroke-width="3.2" fill="none" stroke-linecap="round"/>
<text x="650.13" y="103" font-size="36" fill="#000" textLength="542.63" lengthAdjust="spacingAndGlyphs" stroke="#000" stroke-width="1.5" stroke-linejoin="round">5 Moving Averages Compared</text>
<text x="610.17" y="143" font-size="36" fill="#000" textLength="605.71" lengthAdjust="spacingAndGlyphs" stroke="#000" stroke-width="1.5" stroke-linejoin="round">Huge Differences in Calculations</text>
<text x="1151.3" y="240" font-size="29" fill="#000" textLength="429.0" lengthAdjust="spacingAndGlyphs" stroke="#000" stroke-width="1.2" stroke-linejoin="round">Weighted Moving Average 50</text>
<text x="598.91" y="314.2" font-size="29" fill="#f23645" textLength="466.7" lengthAdjust="spacingAndGlyphs" stroke="#f23645" stroke-width="1.2" stroke-linejoin="round">Exponential Moving Average 50</text>
<text x="77.81" y="600.3" font-size="29" fill="#388e3c" textLength="616.16" lengthAdjust="spacingAndGlyphs" stroke="#388e3c" stroke-width="1.2" stroke-linejoin="round">Exponential Weighted Moving Average 50</text>
<text x="395.01" y="700" font-size="29" fill="#2f76f2" textLength="349.56" lengthAdjust="spacingAndGlyphs" stroke="#2f76f2" stroke-width="1.2" stroke-linejoin="round">Hull Moving Average 50</text>
<text x="952.07" y="663.6" font-size="29" fill="#ab47bc" textLength="388.04" lengthAdjust="spacingAndGlyphs" stroke="#ab47bc" stroke-width="1.2" stroke-linejoin="round">Simple Moving Average 50</text>
<text x="17.29" y="46.0" font-size="12" fill="#131722" textLength="136.87" lengthAdjust="spacingAndGlyphs">S&amp;P 500 INDEX, 1D, CBOE</text>
<text x="161.24" y="46.0" font-size="12" fill="#ef5350" textLength="85.75" lengthAdjust="spacingAndGlyphs">−25.14 (−0.60%)</text>
<text x="17.21" y="63.0" font-size="12" fill="#131722" textLength="84.65" lengthAdjust="spacingAndGlyphs">HMA (50, close)</text>
<text x="109.0" y="63.0" font-size="12" fill="#2962ff" textLength="42.38" lengthAdjust="spacingAndGlyphs">4156.87</text>
<text x="17.21" y="80.1" font-size="12" fill="#131722" textLength="134.15" lengthAdjust="spacingAndGlyphs">MA (50, close, 0, SMA, 5)</text>
<text x="159.3" y="80.1" font-size="12" fill="#ab47bc" textLength="41.27" lengthAdjust="spacingAndGlyphs">4086.51</text>
<text x="17.22" y="97.2" font-size="12" fill="#131722" textLength="140.74" lengthAdjust="spacingAndGlyphs">EMA (50, close, 0, SMA, 5)</text>
<text x="165.6" y="97.2" font-size="12" fill="#f23645" textLength="41.78" lengthAdjust="spacingAndGlyphs">4101.31</text>
<text x="17.22" y="114.2" font-size="12" fill="#131722" textLength="151.65" lengthAdjust="spacingAndGlyphs">EMA (50, close, 0, WMA, 50)</text>
<text x="176.3" y="114.2" font-size="12" fill="#4caf50" textLength="42.48" lengthAdjust="spacingAndGlyphs">4055.48</text>
<text x="18.2" y="131.3" font-size="12" fill="#131722" textLength="100.07" lengthAdjust="spacingAndGlyphs">WMA (50, close, 0)</text>
<text x="125.8" y="131.3" font-size="12" fill="#131722" textLength="42.28" lengthAdjust="spacingAndGlyphs">4123.70</text>
<text x="1855.39" y="47" font-size="15.4" fill="#50535e" textLength="36.91" lengthAdjust="spacingAndGlyphs">point</text>
<text x="1857.0" y="90.1" font-size="15.4" fill="#131722" textLength="56.65" lengthAdjust="spacingAndGlyphs">4600.00</text>
<text x="1857.0" y="132.1" font-size="15.4" fill="#131722" textLength="56.65" lengthAdjust="spacingAndGlyphs">4400.00</text>
<text x="1857.0" y="177.1" font-size="15.4" fill="#131722" textLength="56.65" lengthAdjust="spacingAndGlyphs">4200.00</text>
<text x="1857.0" y="223.1" font-size="15.4" fill="#131722" textLength="56.65" lengthAdjust="spacingAndGlyphs">4000.00</text>
<text x="1857.0" y="273.1" font-size="15.4" fill="#131722" textLength="56.65" lengthAdjust="spacingAndGlyphs">3800.00</text>
<text x="1857.0" y="324.1" font-size="15.4" fill="#131722" textLength="56.65" lengthAdjust="spacingAndGlyphs">3600.00</text>
<text x="1857.0" y="379.1" font-size="15.4" fill="#131722" textLength="56.65" lengthAdjust="spacingAndGlyphs">3400.00</text>
<text x="1857.0" y="437.1" font-size="15.4" fill="#131722" textLength="56.65" lengthAdjust="spacingAndGlyphs">3200.00</text>
<text x="1857.0" y="499.1" font-size="15.4" fill="#131722" textLength="56.65" lengthAdjust="spacingAndGlyphs">3000.00</text>
<text x="1857.0" y="548.1" font-size="15.4" fill="#131722" textLength="56.65" lengthAdjust="spacingAndGlyphs">2850.00</text>
<text x="1857.0" y="589.1" font-size="15.4" fill="#131722" textLength="56.65" lengthAdjust="spacingAndGlyphs">2730.00</text>
<text x="1857.0" y="632.1" font-size="15.4" fill="#131722" textLength="56.65" lengthAdjust="spacingAndGlyphs">2610.00</text>
<text x="1857.0" y="677.1" font-size="15.4" fill="#131722" textLength="56.65" lengthAdjust="spacingAndGlyphs">2490.00</text>
<text x="1857.0" y="726.1" font-size="15.4" fill="#131722" textLength="56.65" lengthAdjust="spacingAndGlyphs">2365.00</text>
<text x="1857.0" y="768.1" font-size="15.4" fill="#131722" textLength="56.65" lengthAdjust="spacingAndGlyphs">2265.00</text>
<text x="1857.0" y="811.1" font-size="15.4" fill="#131722" textLength="56.65" lengthAdjust="spacingAndGlyphs">2165.00</text>
<text x="1857.0" y="851.1" font-size="15.4" fill="#131722" textLength="56.65" lengthAdjust="spacingAndGlyphs">2075.00</text>
<rect x="1846.5" y="227.5" width="73" height="22" rx="2" fill="#fff" stroke="#2962ff" stroke-width="1"/>
<text x="1857.0" y="243.8" font-size="15.4" fill="#2962ff" textLength="56.65" lengthAdjust="spacingAndGlyphs">3778.09</text>
<rect x="1846.5" y="250.5" width="73" height="22" rx="2" fill="#fff" stroke="#000000" stroke-width="1"/>
<text x="1857.0" y="266.8" font-size="15.4" fill="#000000" textLength="55.64" lengthAdjust="spacingAndGlyphs">3704.04</text>
<rect x="1846.5" y="273.5" width="73" height="22" rx="2" fill="#fff" stroke="#f23645" stroke-width="1"/>
<text x="1857.0" y="289.8" font-size="15.4" fill="#f23645" textLength="56.65" lengthAdjust="spacingAndGlyphs">3655.68</text>
<rect x="1846.5" y="295.5" width="73" height="22" rx="2" fill="#fff" stroke="#ab47bc" stroke-width="1"/>
<text x="1857.0" y="311.8" font-size="15.4" fill="#ab47bc" textLength="56.65" lengthAdjust="spacingAndGlyphs">3649.83</text>
<rect x="1846.5" y="319.5" width="73" height="22" rx="2" fill="#fff" stroke="#4caf50" stroke-width="1"/>
<text x="1857.0" y="335.8" font-size="15.4" fill="#4caf50" textLength="56.65" lengthAdjust="spacingAndGlyphs">3561.00</text>
<text x="15.0" y="909" font-size="15.4" fill="#131722" textLength="26.98" lengthAdjust="spacingAndGlyphs">Aug</text>
<text x="123.93" y="909" font-size="15.4" fill="#131722" textLength="26.44" lengthAdjust="spacingAndGlyphs">Sep</text>
<text x="237.7" y="909" font-size="15.4" fill="#131722" textLength="8.03" lengthAdjust="spacingAndGlyphs">2</text>
<text x="336.5" y="909" font-size="15.4" fill="#131722" textLength="27.48" lengthAdjust="spacingAndGlyphs">Nov</text>
<text x="536.8" y="909" font-size="15.4" font-weight="bold" fill="#131722" textLength="36.37" lengthAdjust="spacingAndGlyphs">2020</text>
<text x="645.62" y="909" font-size="15.4" fill="#131722" textLength="26.11" lengthAdjust="spacingAndGlyphs">Feb</text>
<text x="850.0" y="909" font-size="15.4" fill="#131722" textLength="23.95" lengthAdjust="spacingAndGlyphs">Apr</text>
<text x="951.51" y="909" font-size="15.4" fill="#131722" textLength="28.66" lengthAdjust="spacingAndGlyphs">May</text>
<text x="1066.4" y="909" font-size="15.4" fill="#131722" textLength="8.03" lengthAdjust="spacingAndGlyphs">2</text>
<text x="1164.7" y="909" font-size="15.4" fill="#131722" textLength="20.72" lengthAdjust="spacingAndGlyphs">Jul</text>
<text x="1271.5" y="909" font-size="15.4" fill="#131722" textLength="25.87" lengthAdjust="spacingAndGlyphs">Aug</text>
<text x="1374.85" y="909" font-size="15.4" fill="#131722" textLength="25.92" lengthAdjust="spacingAndGlyphs">Sep</text>
<text x="1480.6" y="909" font-size="15.4" fill="#131722" textLength="24.05" lengthAdjust="spacingAndGlyphs">Oct</text>
<text x="1587.41" y="909" font-size="15.4" fill="#131722" textLength="26.97" lengthAdjust="spacingAndGlyphs">Nov</text>
<text x="1701.8" y="909" font-size="15.4" fill="#131722" textLength="8.03" lengthAdjust="spacingAndGlyphs">2</text>
<text x="1792.6" y="909" font-size="15.4" font-weight="bold" fill="#131722" textLength="35.36" lengthAdjust="spacingAndGlyphs">2021</text>
<rect x="10" y="27" width="1914" height="895" fill="none" stroke="#ebedf3" stroke-width="2"/>
<g>
<rect x="1562" y="763" width="86" height="85.8" fill="#000"/>
<path d="M1562 832.9L1586.2 807.2L1604.6 823.7L1638.7 789.2L1641.8 792L1648 774.2V848.8H1562Z" fill="#7d0000"/>
<path d="M1562 820.5L1585.7 795.7L1604.4 811.8L1632 783.4L1629.7 779.7L1648 774.2L1641.8 792L1638.7 789.2L1604.6 823.7L1586.2 807.2L1562 832.9Z" fill="#fff"/>
<text x="1660.2" y="801.5" font-size="24" font-weight="bold" font-style="italic" fill="#800000" stroke="#800000" stroke-width="0.7" textLength="131.65" lengthAdjust="spacingAndGlyphs">LIBERATED</text>
<text x="1657.62" y="823.9" font-size="17.4" font-weight="bold" fill="#0a0a0a" textLength="135.85" lengthAdjust="spacingAndGlyphs" style="font-family:'Liberation Serif',serif">STOCK TRADER</text>
</g>
<path d="M9.9 934.2H17.8V943.9H13.7V937.9H9.9Z" fill="#131722"/>
<circle cx="21.6" cy="936" r="1.8" fill="#131722"/>
<path d="M24.2 934.2H29.8L25.4 943.9H21.2Z" fill="#131722"/>
<text x="33.1" y="943.9" font-size="12.3" fill="#2a2e39" textLength="69.66" lengthAdjust="spacingAndGlyphs">TradingView</text>
</svg>
</body></html>
